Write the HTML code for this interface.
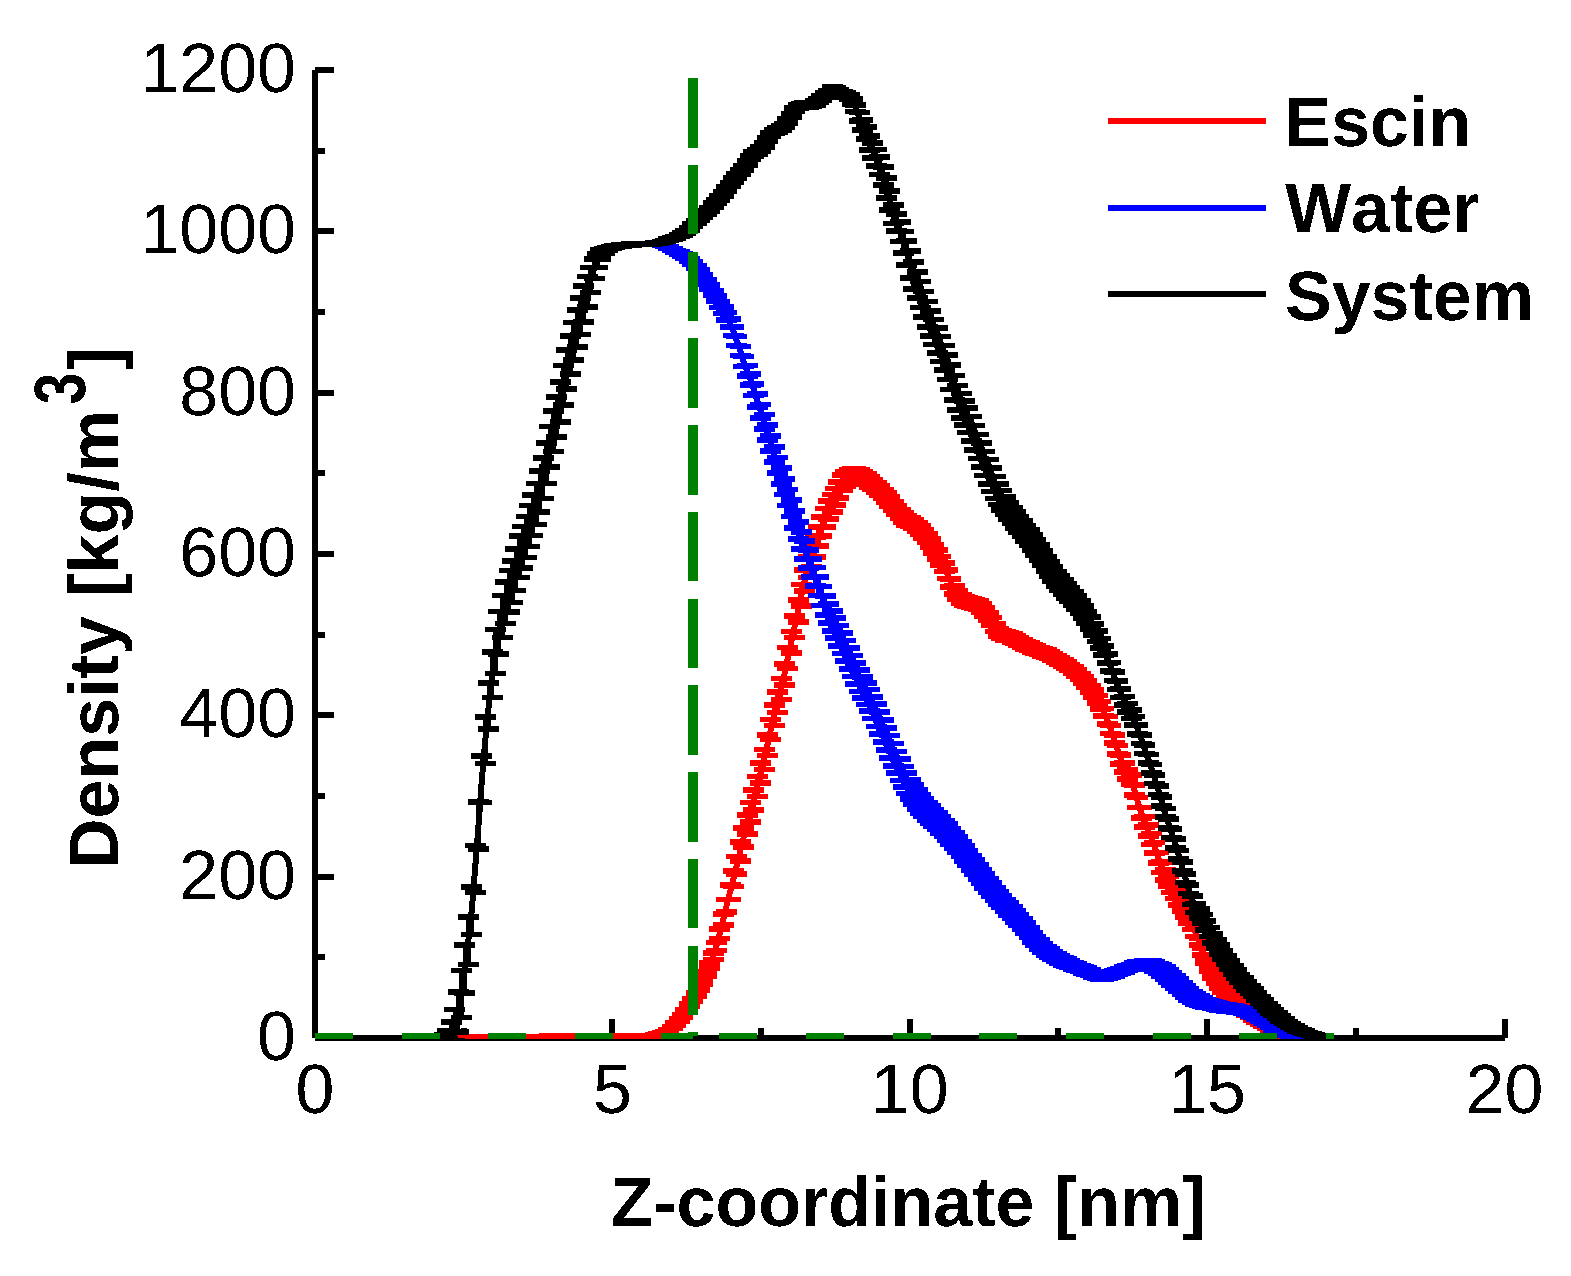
<!DOCTYPE html>
<html><head><meta charset="utf-8"><title>Density profile</title>
<style>html,body{margin:0;padding:0;background:#fff}svg{display:block}text{font-kerning:none}</style></head>
<body>
<svg width="1571" height="1276" viewBox="0 0 1571 1276" shape-rendering="crispEdges" text-rendering="geometricPrecision">
<defs><filter id="th" x="0" y="0" width="100%" height="100%" filterUnits="userSpaceOnUse" primitiveUnits="userSpaceOnUse" color-interpolation-filters="sRGB"><feComponentTransfer><feFuncA type="discrete" tableValues="0 1"/></feComponentTransfer></filter></defs>
<rect width="1571" height="1276" fill="#fff"/>
<rect x="312" y="70" width="6" height="968" fill="#000"/>
<rect x="315" y="1035" width="1190" height="6" fill="#000"/>
<rect x="315" y="67.0" width="19" height="6" fill="#000"/>
<rect x="315" y="147.7" width="10" height="6" fill="#000"/>
<rect x="315" y="228.3" width="19" height="6" fill="#000"/>
<rect x="315" y="309.0" width="10" height="6" fill="#000"/>
<rect x="315" y="389.7" width="19" height="6" fill="#000"/>
<rect x="315" y="470.3" width="10" height="6" fill="#000"/>
<rect x="315" y="551.0" width="19" height="6" fill="#000"/>
<rect x="315" y="631.7" width="10" height="6" fill="#000"/>
<rect x="315" y="712.3" width="19" height="6" fill="#000"/>
<rect x="315" y="793.0" width="10" height="6" fill="#000"/>
<rect x="315" y="873.7" width="19" height="6" fill="#000"/>
<rect x="315" y="954.3" width="10" height="6" fill="#000"/>
<rect x="460.7" y="1028" width="6" height="10" fill="#000"/>
<rect x="609.4" y="1019" width="6" height="19" fill="#000"/>
<rect x="758.1" y="1028" width="6" height="10" fill="#000"/>
<rect x="906.8" y="1019" width="6" height="19" fill="#000"/>
<rect x="1055.4" y="1028" width="6" height="10" fill="#000"/>
<rect x="1204.1" y="1019" width="6" height="19" fill="#000"/>
<rect x="1352.8" y="1028" width="6" height="10" fill="#000"/>
<rect x="1501.5" y="1019" width="6" height="19" fill="#000"/>
<clipPath id="pc"><rect x="315" y="0" width="1200" height="1039"/></clipPath>
<g clip-path="url(#pc)">
<path fill="#ff0000" d="M447.6 1033.5h21.0v5.6h-21.0zM447.6 1033.9h21.0v5.6h-21.0zM451.0 1033.5h21.0v5.6h-21.0zM451.0 1033.9h21.0v5.6h-21.0zM454.4 1033.5h21.0v5.6h-21.0zM454.4 1033.9h21.0v5.6h-21.0zM457.8 1033.5h21.0v5.6h-21.0zM457.8 1033.9h21.0v5.6h-21.0zM461.2 1033.5h21.0v5.6h-21.0zM461.2 1033.9h21.0v5.6h-21.0zM464.6 1033.5h21.0v5.6h-21.0zM464.6 1033.9h21.0v5.6h-21.0zM468.0 1033.5h21.0v5.6h-21.0zM468.0 1033.9h21.0v5.6h-21.0zM471.4 1033.5h21.0v5.6h-21.0zM471.4 1033.9h21.0v5.6h-21.0zM474.8 1033.5h21.0v5.6h-21.0zM474.8 1033.9h21.0v5.6h-21.0zM478.2 1033.5h21.0v5.6h-21.0zM478.2 1033.9h21.0v5.6h-21.0zM481.6 1033.5h21.0v5.6h-21.0zM481.6 1033.9h21.0v5.6h-21.0zM485.0 1033.5h21.0v5.6h-21.0zM485.0 1033.9h21.0v5.6h-21.0zM488.4 1033.5h21.0v5.6h-21.0zM488.4 1033.9h21.0v5.6h-21.0zM491.8 1033.5h21.0v5.6h-21.0zM491.8 1033.9h21.0v5.6h-21.0zM495.2 1033.5h21.0v5.6h-21.0zM495.2 1033.9h21.0v5.6h-21.0zM498.6 1033.5h21.0v5.6h-21.0zM498.6 1033.9h21.0v5.6h-21.0zM502.0 1033.5h21.0v5.6h-21.0zM502.0 1033.9h21.0v5.6h-21.0zM505.4 1033.5h21.0v5.6h-21.0zM505.4 1033.9h21.0v5.6h-21.0zM508.8 1033.5h21.0v5.6h-21.0zM508.8 1033.9h21.0v5.6h-21.0zM512.2 1033.5h21.0v5.6h-21.0zM512.2 1033.9h21.0v5.6h-21.0zM515.6 1033.5h21.0v5.6h-21.0zM515.6 1033.9h21.0v5.6h-21.0zM519.0 1033.5h21.0v5.6h-21.0zM519.0 1033.9h21.0v5.6h-21.0zM522.4 1033.5h21.0v5.6h-21.0zM522.4 1033.9h21.0v5.6h-21.0zM525.8 1033.5h21.0v5.6h-21.0zM525.8 1033.9h21.0v5.6h-21.0zM529.2 1033.5h21.0v5.6h-21.0zM529.2 1033.9h21.0v5.6h-21.0zM532.6 1033.5h21.0v5.6h-21.0zM532.6 1033.9h21.0v5.6h-21.0zM536.0 1033.5h21.0v5.6h-21.0zM536.0 1033.9h21.0v5.6h-21.0zM539.4 1033.4h21.0v5.6h-21.0zM539.4 1034.0h21.0v5.6h-21.0zM542.8 1033.4h21.0v5.6h-21.0zM542.8 1034.0h21.0v5.6h-21.0zM546.2 1033.4h21.0v5.6h-21.0zM546.2 1034.0h21.0v5.6h-21.0zM549.6 1033.4h21.0v5.6h-21.0zM549.6 1034.0h21.0v5.6h-21.0zM553.0 1033.4h21.0v5.6h-21.0zM553.0 1034.0h21.0v5.6h-21.0zM556.4 1033.4h21.0v5.6h-21.0zM556.4 1034.0h21.0v5.6h-21.0zM559.8 1033.4h21.0v5.6h-21.0zM559.8 1034.0h21.0v5.6h-21.0zM563.2 1033.4h21.0v5.6h-21.0zM563.2 1034.0h21.0v5.6h-21.0zM566.6 1033.4h21.0v5.6h-21.0zM566.6 1034.0h21.0v5.6h-21.0zM570.0 1033.4h21.0v5.6h-21.0zM570.0 1034.0h21.0v5.6h-21.0zM573.4 1033.4h21.0v5.6h-21.0zM573.4 1034.0h21.0v5.6h-21.0zM576.8 1033.4h21.0v5.6h-21.0zM576.8 1034.0h21.0v5.6h-21.0zM580.2 1033.4h21.0v5.6h-21.0zM580.2 1034.0h21.0v5.6h-21.0zM583.6 1033.4h21.0v5.6h-21.0zM583.6 1034.0h21.0v5.6h-21.0zM587.0 1033.4h21.0v5.6h-21.0zM587.0 1034.0h21.0v5.6h-21.0zM590.4 1033.4h21.0v5.6h-21.0zM590.4 1034.0h21.0v5.6h-21.0zM593.8 1033.4h21.0v5.6h-21.0zM593.8 1034.0h21.0v5.6h-21.0zM597.2 1033.4h21.0v5.6h-21.0zM597.2 1034.0h21.0v5.6h-21.0zM600.6 1033.4h21.0v5.6h-21.0zM600.6 1034.0h21.0v5.6h-21.0zM604.0 1033.4h21.0v5.6h-21.0zM604.0 1034.0h21.0v5.6h-21.0zM607.4 1033.4h21.0v5.6h-21.0zM607.4 1034.0h21.0v5.6h-21.0zM610.8 1033.4h21.0v5.6h-21.0zM610.8 1034.0h21.0v5.6h-21.0zM614.2 1033.4h21.0v5.6h-21.0zM614.2 1034.0h21.0v5.6h-21.0zM617.6 1033.4h21.0v5.6h-21.0zM617.6 1034.0h21.0v5.6h-21.0zM621.0 1033.4h21.0v5.6h-21.0zM621.0 1034.0h21.0v5.6h-21.0zM624.4 1033.3h21.0v5.6h-21.0zM624.4 1033.9h21.0v5.6h-21.0zM627.8 1033.3h21.0v5.6h-21.0zM627.8 1033.9h21.0v5.6h-21.0zM631.2 1033.2h21.0v5.6h-21.0zM631.2 1033.9h21.0v5.6h-21.0zM634.6 1033.1h21.0v5.6h-21.0zM634.6 1033.9h21.0v5.6h-21.0zM638.0 1032.8h21.0v5.6h-21.0zM638.0 1033.7h21.0v5.6h-21.0zM641.4 1032.5h21.0v5.6h-21.0zM641.4 1033.5h21.0v5.6h-21.0zM644.8 1031.9h21.0v5.6h-21.0zM644.8 1033.0h21.0v5.6h-21.0zM648.2 1031.0h21.0v5.6h-21.0zM648.2 1032.3h21.0v5.6h-21.0zM651.6 1029.9h21.0v5.6h-21.0zM651.6 1031.3h21.0v5.6h-21.0zM655.0 1028.6h21.0v5.6h-21.0zM655.0 1030.1h21.0v5.6h-21.0zM658.4 1026.6h21.0v5.6h-21.0zM658.4 1028.2h21.0v5.6h-21.0zM661.8 1023.6h21.0v5.6h-21.0zM661.8 1025.4h21.0v5.6h-21.0zM665.2 1020.1h21.0v5.6h-21.0zM665.2 1022.0h21.0v5.6h-21.0zM668.6 1016.3h21.0v5.6h-21.0zM668.6 1018.3h21.0v5.6h-21.0zM671.9 1012.1h21.0v5.6h-21.0zM671.9 1014.2h21.0v5.6h-21.0zM675.3 1006.9h21.0v5.6h-21.0zM675.3 1009.2h21.0v5.6h-21.0zM678.7 1001.3h21.0v5.6h-21.0zM678.7 1003.8h21.0v5.6h-21.0zM682.1 995.8h21.0v5.6h-21.0zM682.1 998.4h21.0v5.6h-21.0zM685.5 990.2h21.0v5.6h-21.0zM685.5 993.0h21.0v5.6h-21.0zM688.9 984.2h21.0v5.6h-21.0zM688.9 987.2h21.0v5.6h-21.0zM692.3 977.2h21.0v5.6h-21.0zM692.3 980.9h21.0v5.6h-21.0zM695.7 968.9h21.0v5.6h-21.0zM695.7 973.5h21.0v5.6h-21.0zM699.1 959.9h21.0v5.6h-21.0zM699.1 965.3h21.0v5.6h-21.0zM702.5 950.4h21.0v5.6h-21.0zM702.5 956.8h21.0v5.6h-21.0zM710.8 953.2h4.5v6.5h-4.5zM705.9 939.5h21.0v5.6h-21.0zM705.9 947.5h21.0v5.6h-21.0zM714.2 942.3h4.5v8.0h-4.5zM709.3 926.0h21.0v5.6h-21.0zM709.3 935.6h21.0v5.6h-21.0zM717.6 928.8h4.5v9.6h-4.5zM712.7 911.2h21.0v5.6h-21.0zM712.7 922.4h21.0v5.6h-21.0zM721.0 914.0h4.5v11.2h-4.5zM716.1 896.7h21.0v5.6h-21.0zM716.1 909.4h21.0v5.6h-21.0zM724.4 899.5h4.5v12.8h-4.5zM719.5 882.2h21.0v5.6h-21.0zM719.5 896.6h21.0v5.6h-21.0zM727.8 885.0h4.5v14.3h-4.5zM722.9 867.9h21.0v5.6h-21.0zM722.9 883.8h21.0v5.6h-21.0zM731.2 870.7h4.5v15.9h-4.5zM726.3 853.5h21.0v5.6h-21.0zM726.3 871.0h21.0v5.6h-21.0zM734.6 856.3h4.5v17.5h-4.5zM729.7 839.0h21.0v5.6h-21.0zM729.7 858.0h21.0v5.6h-21.0zM738.0 841.8h4.5v19.0h-4.5zM733.1 825.3h21.0v5.6h-21.0zM733.1 844.4h21.0v5.6h-21.0zM741.4 828.1h4.5v19.2h-4.5zM736.5 812.0h21.0v5.6h-21.0zM736.5 831.3h21.0v5.6h-21.0zM744.8 814.8h4.5v19.3h-4.5zM739.9 799.7h21.0v5.6h-21.0zM739.9 819.1h21.0v5.6h-21.0zM748.2 802.5h4.5v19.5h-4.5zM743.3 787.3h21.0v5.6h-21.0zM743.3 806.9h21.0v5.6h-21.0zM751.6 790.1h4.5v19.6h-4.5zM746.7 773.8h21.0v5.6h-21.0zM746.7 793.6h21.0v5.6h-21.0zM755.0 776.6h4.5v19.7h-4.5zM750.1 760.1h21.0v5.6h-21.0zM750.1 780.0h21.0v5.6h-21.0zM758.4 762.9h4.5v19.9h-4.5zM753.5 746.8h21.0v5.6h-21.0zM753.5 766.8h21.0v5.6h-21.0zM761.8 749.6h4.5v20.0h-4.5zM756.9 732.4h21.0v5.6h-21.0zM756.9 752.5h21.0v5.6h-21.0zM765.2 735.2h4.5v20.2h-4.5zM760.3 716.5h21.0v5.6h-21.0zM760.3 736.8h21.0v5.6h-21.0zM768.6 719.3h4.5v20.3h-4.5zM763.7 702.3h21.0v5.6h-21.0zM763.7 722.7h21.0v5.6h-21.0zM772.0 705.1h4.5v20.5h-4.5zM767.1 688.9h21.0v5.6h-21.0zM767.1 709.6h21.0v5.6h-21.0zM775.4 691.7h4.5v20.6h-4.5zM770.5 675.7h21.0v5.6h-21.0zM770.5 696.5h21.0v5.6h-21.0zM778.8 678.5h4.5v20.8h-4.5zM773.9 661.2h21.0v5.6h-21.0zM773.9 682.2h21.0v5.6h-21.0zM782.2 664.0h4.5v20.9h-4.5zM777.3 644.6h21.0v5.6h-21.0zM777.3 665.7h21.0v5.6h-21.0zM785.6 647.4h4.5v21.1h-4.5zM780.7 628.8h21.0v5.6h-21.0zM780.7 650.0h21.0v5.6h-21.0zM789.0 631.6h4.5v21.2h-4.5zM784.1 613.1h21.0v5.6h-21.0zM784.1 634.5h21.0v5.6h-21.0zM792.4 615.9h4.5v21.4h-4.5zM787.5 597.4h21.0v5.6h-21.0zM787.5 619.0h21.0v5.6h-21.0zM795.8 600.2h4.5v21.5h-4.5zM790.9 581.6h21.0v5.6h-21.0zM790.9 603.0h21.0v5.6h-21.0zM799.1 584.4h4.5v21.4h-4.5zM794.3 567.1h21.0v5.6h-21.0zM794.3 588.0h21.0v5.6h-21.0zM802.5 569.9h4.5v21.0h-4.5zM797.7 554.0h21.0v5.6h-21.0zM797.7 574.5h21.0v5.6h-21.0zM805.9 556.8h4.5v20.5h-4.5zM801.1 543.7h21.0v5.6h-21.0zM801.1 563.7h21.0v5.6h-21.0zM809.3 546.5h4.5v20.1h-4.5zM804.5 534.4h21.0v5.6h-21.0zM804.5 554.0h21.0v5.6h-21.0zM812.7 537.2h4.5v19.6h-4.5zM807.9 524.2h21.0v5.6h-21.0zM807.9 543.4h21.0v5.6h-21.0zM816.1 527.0h4.5v19.2h-4.5zM811.3 514.1h21.0v5.6h-21.0zM811.3 532.9h21.0v5.6h-21.0zM819.5 516.9h4.5v18.7h-4.5zM814.7 505.6h21.0v5.6h-21.0zM814.7 523.9h21.0v5.6h-21.0zM822.9 508.4h4.5v18.3h-4.5zM818.1 498.2h21.0v5.6h-21.0zM818.1 516.1h21.0v5.6h-21.0zM826.3 501.0h4.5v17.8h-4.5zM821.5 491.6h21.0v5.6h-21.0zM821.5 509.0h21.0v5.6h-21.0zM829.7 494.4h4.5v17.4h-4.5zM824.9 485.5h21.0v5.6h-21.0zM824.9 502.4h21.0v5.6h-21.0zM833.1 488.3h4.5v16.9h-4.5zM828.3 479.2h21.0v5.6h-21.0zM828.3 495.4h21.0v5.6h-21.0zM836.5 482.0h4.5v16.2h-4.5zM831.7 472.0h21.0v5.6h-21.0zM831.7 487.6h21.0v5.6h-21.0zM839.9 474.8h4.5v15.6h-4.5zM835.1 468.7h21.0v5.6h-21.0zM835.1 483.6h21.0v5.6h-21.0zM843.3 471.5h4.5v14.9h-4.5zM838.5 466.9h21.0v5.6h-21.0zM838.5 481.1h21.0v5.6h-21.0zM846.7 469.7h4.5v14.2h-4.5zM841.9 466.4h21.0v5.6h-21.0zM841.9 479.9h21.0v5.6h-21.0zM850.1 469.2h4.5v13.5h-4.5zM845.3 466.3h21.0v5.6h-21.0zM845.3 479.2h21.0v5.6h-21.0zM853.5 469.1h4.5v12.8h-4.5zM848.7 467.0h21.0v5.6h-21.0zM848.7 479.1h21.0v5.6h-21.0zM856.9 469.8h4.5v12.2h-4.5zM852.1 468.8h21.0v5.6h-21.0zM852.1 480.2h21.0v5.6h-21.0zM860.3 471.6h4.5v11.5h-4.5zM855.5 471.0h21.0v5.6h-21.0zM855.5 481.8h21.0v5.6h-21.0zM863.7 473.8h4.5v10.8h-4.5zM858.9 474.0h21.0v5.6h-21.0zM858.9 484.1h21.0v5.6h-21.0zM867.1 476.8h4.5v10.1h-4.5zM862.3 477.3h21.0v5.6h-21.0zM862.3 486.7h21.0v5.6h-21.0zM870.5 480.1h4.5v9.4h-4.5zM865.7 480.4h21.0v5.6h-21.0zM865.7 489.4h21.0v5.6h-21.0zM873.9 483.2h4.5v9.0h-4.5zM869.1 483.4h21.0v5.6h-21.0zM869.1 492.4h21.0v5.6h-21.0zM877.3 486.2h4.5v9.0h-4.5zM872.5 486.6h21.0v5.6h-21.0zM872.5 495.6h21.0v5.6h-21.0zM880.7 489.4h4.5v8.9h-4.5zM875.9 490.2h21.0v5.6h-21.0zM875.9 499.1h21.0v5.6h-21.0zM884.1 493.0h4.5v8.9h-4.5zM879.3 494.4h21.0v5.6h-21.0zM879.3 503.3h21.0v5.6h-21.0zM887.5 497.2h4.5v8.9h-4.5zM882.7 498.9h21.0v5.6h-21.0zM882.7 507.8h21.0v5.6h-21.0zM890.9 501.7h4.5v8.9h-4.5zM886.1 503.0h21.0v5.6h-21.0zM886.1 511.8h21.0v5.6h-21.0zM894.3 505.8h4.5v8.8h-4.5zM889.5 506.9h21.0v5.6h-21.0zM889.5 515.7h21.0v5.6h-21.0zM897.7 509.7h4.5v8.8h-4.5zM892.9 510.4h21.0v5.6h-21.0zM892.9 519.2h21.0v5.6h-21.0zM901.1 513.2h4.5v8.8h-4.5zM896.3 513.1h21.0v5.6h-21.0zM896.3 521.9h21.0v5.6h-21.0zM904.5 515.9h4.5v8.7h-4.5zM899.7 515.1h21.0v5.6h-21.0zM899.7 523.8h21.0v5.6h-21.0zM907.9 517.9h4.5v8.7h-4.5zM903.1 517.0h21.0v5.6h-21.0zM903.1 525.7h21.0v5.6h-21.0zM911.3 519.8h4.5v8.7h-4.5zM906.5 519.5h21.0v5.6h-21.0zM906.5 528.1h21.0v5.6h-21.0zM914.7 522.3h4.5v8.7h-4.5zM909.9 522.7h21.0v5.6h-21.0zM909.9 531.4h21.0v5.6h-21.0zM918.1 525.5h4.5v8.6h-4.5zM913.2 526.6h21.0v5.6h-21.0zM913.2 535.2h21.0v5.6h-21.0zM921.5 529.4h4.5v8.6h-4.5zM916.6 530.9h21.0v5.6h-21.0zM916.6 539.5h21.0v5.6h-21.0zM924.9 533.7h4.5v8.6h-4.5zM920.0 536.0h21.0v5.6h-21.0zM920.0 544.6h21.0v5.6h-21.0zM928.3 538.8h4.5v8.6h-4.5zM923.4 541.6h21.0v5.6h-21.0zM923.4 550.1h21.0v5.6h-21.0zM931.7 544.4h4.5v8.5h-4.5zM926.8 547.4h21.0v5.6h-21.0zM926.8 555.9h21.0v5.6h-21.0zM935.1 550.2h4.5v8.5h-4.5zM930.2 553.6h21.0v5.6h-21.0zM930.2 562.0h21.0v5.6h-21.0zM938.5 556.4h4.5v8.5h-4.5zM933.6 560.1h21.0v5.6h-21.0zM933.6 568.6h21.0v5.6h-21.0zM941.9 562.9h4.5v8.4h-4.5zM937.0 567.3h21.0v5.6h-21.0zM937.0 575.7h21.0v5.6h-21.0zM945.3 570.1h4.5v8.4h-4.5zM940.4 575.9h21.0v5.6h-21.0zM940.4 584.3h21.0v5.6h-21.0zM948.7 578.7h4.5v8.4h-4.5zM943.8 582.5h21.0v5.6h-21.0zM943.8 590.9h21.0v5.6h-21.0zM952.1 585.3h4.5v8.4h-4.5zM947.2 587.6h21.0v5.6h-21.0zM947.2 595.9h21.0v5.6h-21.0zM955.5 590.4h4.5v8.3h-4.5zM950.6 591.6h21.0v5.6h-21.0zM950.6 599.9h21.0v5.6h-21.0zM958.9 594.4h4.5v8.3h-4.5zM954.0 594.0h21.0v5.6h-21.0zM954.0 602.3h21.0v5.6h-21.0zM962.3 596.8h4.5v8.3h-4.5zM957.4 595.4h21.0v5.6h-21.0zM957.4 603.6h21.0v5.6h-21.0zM965.7 598.2h4.5v8.3h-4.5zM960.8 596.3h21.0v5.6h-21.0zM960.8 604.5h21.0v5.6h-21.0zM969.1 599.1h4.5v8.2h-4.5zM964.2 597.1h21.0v5.6h-21.0zM964.2 605.3h21.0v5.6h-21.0zM972.5 599.9h4.5v8.2h-4.5zM967.6 598.4h21.0v5.6h-21.0zM967.6 606.6h21.0v5.6h-21.0zM975.9 601.2h4.5v8.2h-4.5zM971.0 600.8h21.0v5.6h-21.0zM971.0 608.9h21.0v5.6h-21.0zM979.3 603.6h4.5v8.1h-4.5zM974.4 604.8h21.0v5.6h-21.0zM974.4 612.9h21.0v5.6h-21.0zM982.7 607.6h4.5v8.1h-4.5zM977.8 609.6h21.0v5.6h-21.0zM977.8 617.7h21.0v5.6h-21.0zM986.1 612.4h4.5v8.1h-4.5zM981.2 614.5h21.0v5.6h-21.0zM981.2 622.6h21.0v5.6h-21.0zM989.5 617.3h4.5v8.1h-4.5zM984.6 620.6h21.0v5.6h-21.0zM984.6 628.7h21.0v5.6h-21.0zM992.9 623.4h4.5v8.0h-4.5zM988.0 625.7h21.0v5.6h-21.0zM988.0 633.7h21.0v5.6h-21.0zM996.3 628.5h4.5v8.0h-4.5zM991.4 627.8h21.0v5.6h-21.0zM991.4 635.7h21.0v5.6h-21.0zM999.7 630.6h4.5v8.0h-4.5zM994.8 629.0h21.0v5.6h-21.0zM994.8 636.9h21.0v5.6h-21.0zM1003.1 631.8h4.5v7.9h-4.5zM998.2 630.0h21.0v5.6h-21.0zM998.2 637.8h21.0v5.6h-21.0zM1006.5 632.8h4.5v7.8h-4.5zM1001.6 631.2h21.0v5.6h-21.0zM1001.6 638.9h21.0v5.6h-21.0zM1009.9 634.0h4.5v7.7h-4.5zM1005.0 632.8h21.0v5.6h-21.0zM1005.0 640.5h21.0v5.6h-21.0zM1013.3 635.6h4.5v7.6h-4.5zM1008.4 634.9h21.0v5.6h-21.0zM1008.4 642.4h21.0v5.6h-21.0zM1016.7 637.7h4.5v7.5h-4.5zM1011.8 637.0h21.0v5.6h-21.0zM1011.8 644.4h21.0v5.6h-21.0zM1020.1 639.8h4.5v7.4h-4.5zM1015.2 638.8h21.0v5.6h-21.0zM1015.2 646.2h21.0v5.6h-21.0zM1023.5 641.6h4.5v7.4h-4.5zM1018.6 640.4h21.0v5.6h-21.0zM1018.6 647.7h21.0v5.6h-21.0zM1026.9 643.2h4.5v7.3h-4.5zM1022.0 641.8h21.0v5.6h-21.0zM1022.0 649.0h21.0v5.6h-21.0zM1030.3 644.6h4.5v7.2h-4.5zM1025.4 643.3h21.0v5.6h-21.0zM1025.4 650.4h21.0v5.6h-21.0zM1033.7 646.1h4.5v7.1h-4.5zM1028.8 644.7h21.0v5.6h-21.0zM1028.8 651.7h21.0v5.6h-21.0zM1037.1 647.5h4.5v7.0h-4.5zM1032.2 646.0h21.0v5.6h-21.0zM1032.2 652.9h21.0v5.6h-21.0zM1040.5 648.8h4.5v6.9h-4.5zM1035.6 647.3h21.0v5.6h-21.0zM1035.6 654.2h21.0v5.6h-21.0zM1043.8 650.1h4.5v6.8h-4.5zM1039.0 648.8h21.0v5.6h-21.0zM1039.0 655.6h21.0v5.6h-21.0zM1047.2 651.6h4.5v6.8h-4.5zM1042.4 650.6h21.0v5.6h-21.0zM1042.4 657.2h21.0v5.6h-21.0zM1050.6 653.4h4.5v6.7h-4.5zM1045.8 652.6h21.0v5.6h-21.0zM1045.8 659.2h21.0v5.6h-21.0zM1054.0 655.4h4.5v6.6h-4.5zM1049.2 654.8h21.0v5.6h-21.0zM1049.2 661.3h21.0v5.6h-21.0zM1057.4 657.6h4.5v6.5h-4.5zM1052.6 657.0h21.0v5.6h-21.0zM1052.6 663.5h21.0v5.6h-21.0zM1060.8 659.8h4.5v6.4h-4.5zM1056.0 659.3h21.0v5.6h-21.0zM1056.0 665.6h21.0v5.6h-21.0zM1064.2 662.1h4.5v6.3h-4.5zM1059.4 661.6h21.0v5.6h-21.0zM1059.4 667.8h21.0v5.6h-21.0zM1067.6 664.4h4.5v6.3h-4.5zM1062.8 664.1h21.0v5.6h-21.0zM1062.8 670.3h21.0v5.6h-21.0zM1071.0 666.9h4.5v6.2h-4.5zM1066.2 667.1h21.0v5.6h-21.0zM1066.2 673.2h21.0v5.6h-21.0zM1074.4 669.9h4.5v6.1h-4.5zM1069.6 670.5h21.0v5.6h-21.0zM1069.6 676.5h21.0v5.6h-21.0zM1077.8 673.3h4.5v6.0h-4.5zM1073.0 674.2h21.0v5.6h-21.0zM1073.0 680.4h21.0v5.6h-21.0zM1081.2 677.0h4.5v6.2h-4.5zM1076.4 678.2h21.0v5.6h-21.0zM1076.4 684.7h21.0v5.6h-21.0zM1084.6 681.0h4.5v6.5h-4.5zM1079.8 682.6h21.0v5.6h-21.0zM1079.8 689.2h21.0v5.6h-21.0zM1088.0 685.4h4.5v6.7h-4.5zM1083.2 687.4h21.0v5.6h-21.0zM1083.2 694.3h21.0v5.6h-21.0zM1091.4 690.2h4.5v6.9h-4.5zM1086.6 692.8h21.0v5.6h-21.0zM1086.6 699.9h21.0v5.6h-21.0zM1094.8 695.6h4.5v7.1h-4.5zM1090.0 698.8h21.0v5.6h-21.0zM1090.0 706.2h21.0v5.6h-21.0zM1098.2 701.6h4.5v7.4h-4.5zM1093.4 705.7h21.0v5.6h-21.0zM1093.4 713.3h21.0v5.6h-21.0zM1101.6 708.5h4.5v7.6h-4.5zM1096.8 713.6h21.0v5.6h-21.0zM1096.8 721.4h21.0v5.6h-21.0zM1105.0 716.4h4.5v7.8h-4.5zM1100.2 722.5h21.0v5.6h-21.0zM1100.2 730.6h21.0v5.6h-21.0zM1108.4 725.3h4.5v8.1h-4.5zM1103.6 732.1h21.0v5.6h-21.0zM1103.6 740.4h21.0v5.6h-21.0zM1111.8 734.9h4.5v8.3h-4.5zM1107.0 742.6h21.0v5.6h-21.0zM1107.0 751.1h21.0v5.6h-21.0zM1115.2 745.4h4.5v8.6h-4.5zM1110.4 752.1h21.0v5.6h-21.0zM1110.4 760.9h21.0v5.6h-21.0zM1118.6 754.9h4.5v8.8h-4.5zM1113.8 760.2h21.0v5.6h-21.0zM1113.8 769.3h21.0v5.6h-21.0zM1122.0 763.0h4.5v9.1h-4.5zM1117.2 767.1h21.0v5.6h-21.0zM1117.2 776.4h21.0v5.6h-21.0zM1125.4 769.9h4.5v9.3h-4.5zM1120.6 772.1h21.0v5.6h-21.0zM1120.6 781.7h21.0v5.6h-21.0zM1128.8 774.9h4.5v9.6h-4.5zM1124.0 782.4h21.0v5.6h-21.0zM1124.0 792.3h21.0v5.6h-21.0zM1132.2 785.2h4.5v9.8h-4.5zM1127.4 794.7h21.0v5.6h-21.0zM1127.4 804.7h21.0v5.6h-21.0zM1135.6 797.5h4.5v10.1h-4.5zM1130.8 804.6h21.0v5.6h-21.0zM1130.8 814.9h21.0v5.6h-21.0zM1139.0 807.4h4.5v10.3h-4.5zM1134.2 813.8h21.0v5.6h-21.0zM1134.2 824.4h21.0v5.6h-21.0zM1142.4 816.6h4.5v10.6h-4.5zM1137.6 822.4h21.0v5.6h-21.0zM1137.6 833.3h21.0v5.6h-21.0zM1145.8 825.2h4.5v10.9h-4.5zM1141.0 830.6h21.0v5.6h-21.0zM1141.0 841.5h21.0v5.6h-21.0zM1149.2 833.4h4.5v10.9h-4.5zM1144.4 839.5h21.0v5.6h-21.0zM1144.4 850.1h21.0v5.6h-21.0zM1152.6 842.3h4.5v10.6h-4.5zM1147.8 849.7h21.0v5.6h-21.0zM1147.8 860.1h21.0v5.6h-21.0zM1156.0 852.5h4.5v10.4h-4.5zM1151.2 859.3h21.0v5.6h-21.0zM1151.2 869.5h21.0v5.6h-21.0zM1159.4 862.1h4.5v10.1h-4.5zM1154.5 867.0h21.0v5.6h-21.0zM1154.5 876.9h21.0v5.6h-21.0zM1162.8 869.8h4.5v9.9h-4.5zM1157.9 873.8h21.0v5.6h-21.0zM1157.9 883.4h21.0v5.6h-21.0zM1166.2 876.6h4.5v9.6h-4.5zM1161.3 880.2h21.0v5.6h-21.0zM1161.3 889.6h21.0v5.6h-21.0zM1169.6 883.0h4.5v9.4h-4.5zM1164.7 886.7h21.0v5.6h-21.0zM1164.7 895.8h21.0v5.6h-21.0zM1173.0 889.5h4.5v9.1h-4.5zM1168.1 893.0h21.0v5.6h-21.0zM1168.1 901.9h21.0v5.6h-21.0zM1176.4 895.8h4.5v8.9h-4.5zM1171.5 899.3h21.0v5.6h-21.0zM1171.5 907.9h21.0v5.6h-21.0zM1179.8 902.1h4.5v8.6h-4.5zM1174.9 905.8h21.0v5.6h-21.0zM1174.9 914.1h21.0v5.6h-21.0zM1183.2 908.6h4.5v8.3h-4.5zM1178.3 912.2h21.0v5.6h-21.0zM1178.3 920.3h21.0v5.6h-21.0zM1186.6 915.0h4.5v8.1h-4.5zM1181.7 918.9h21.0v5.6h-21.0zM1181.7 926.6h21.0v5.6h-21.0zM1190.0 921.7h4.5v7.7h-4.5zM1185.1 926.3h21.0v5.6h-21.0zM1185.1 933.6h21.0v5.6h-21.0zM1193.4 929.1h4.5v7.3h-4.5zM1188.5 935.4h21.0v5.6h-21.0zM1188.5 942.3h21.0v5.6h-21.0zM1196.8 938.2h4.5v6.9h-4.5zM1191.9 945.4h21.0v5.6h-21.0zM1191.9 951.9h21.0v5.6h-21.0zM1200.2 948.2h4.5v6.5h-4.5zM1195.3 954.2h21.0v5.6h-21.0zM1195.3 960.3h21.0v5.6h-21.0zM1203.6 957.0h4.5v6.1h-4.5zM1198.7 962.4h21.0v5.6h-21.0zM1198.7 968.1h21.0v5.6h-21.0zM1207.0 965.2h4.5v5.7h-4.5zM1202.1 969.6h21.0v5.6h-21.0zM1202.1 974.9h21.0v5.6h-21.0zM1205.5 975.5h21.0v5.6h-21.0zM1205.5 980.4h21.0v5.6h-21.0zM1208.9 980.4h21.0v5.6h-21.0zM1208.9 985.3h21.0v5.6h-21.0zM1212.3 984.9h21.0v5.6h-21.0zM1212.3 989.6h21.0v5.6h-21.0zM1215.7 988.9h21.0v5.6h-21.0zM1215.7 993.6h21.0v5.6h-21.0zM1219.1 992.6h21.0v5.6h-21.0zM1219.1 997.2h21.0v5.6h-21.0zM1222.5 996.1h21.0v5.6h-21.0zM1222.5 1000.6h21.0v5.6h-21.0zM1225.9 999.4h21.0v5.6h-21.0zM1225.9 1003.8h21.0v5.6h-21.0zM1229.3 1002.5h21.0v5.6h-21.0zM1229.3 1006.8h21.0v5.6h-21.0zM1232.7 1005.4h21.0v5.6h-21.0zM1232.7 1009.6h21.0v5.6h-21.0zM1236.1 1008.1h21.0v5.6h-21.0zM1236.1 1012.2h21.0v5.6h-21.0zM1239.5 1010.7h21.0v5.6h-21.0zM1239.5 1014.7h21.0v5.6h-21.0zM1242.9 1013.3h21.0v5.6h-21.0zM1242.9 1017.0h21.0v5.6h-21.0zM1246.3 1015.7h21.0v5.6h-21.0zM1246.3 1019.1h21.0v5.6h-21.0zM1249.7 1018.0h21.0v5.6h-21.0zM1249.7 1021.2h21.0v5.6h-21.0zM1253.1 1020.3h21.0v5.6h-21.0zM1253.1 1023.1h21.0v5.6h-21.0zM1256.5 1022.6h21.0v5.6h-21.0zM1256.5 1025.1h21.0v5.6h-21.0zM1259.9 1024.8h21.0v5.6h-21.0zM1259.9 1027.1h21.0v5.6h-21.0zM1263.3 1026.9h21.0v5.6h-21.0zM1263.3 1028.8h21.0v5.6h-21.0zM1266.7 1028.6h21.0v5.6h-21.0zM1266.7 1030.2h21.0v5.6h-21.0zM1270.1 1030.0h21.0v5.6h-21.0zM1270.1 1031.4h21.0v5.6h-21.0zM1273.5 1031.3h21.0v5.6h-21.0zM1273.5 1032.4h21.0v5.6h-21.0zM1276.9 1032.5h21.0v5.6h-21.0zM1276.9 1033.3h21.0v5.6h-21.0zM1280.3 1033.1h21.0v5.6h-21.0zM1280.3 1033.7h21.0v5.6h-21.0zM1283.7 1033.2h21.0v5.6h-21.0zM1283.7 1033.8h21.0v5.6h-21.0zM1287.1 1033.3h21.0v5.6h-21.0zM1287.1 1033.8h21.0v5.6h-21.0zM1290.5 1033.3h21.0v5.6h-21.0zM1290.5 1033.9h21.0v5.6h-21.0zM1293.9 1033.3h21.0v5.6h-21.0zM1293.9 1033.9h21.0v5.6h-21.0zM1297.3 1033.4h21.0v5.6h-21.0zM1297.3 1033.9h21.0v5.6h-21.0zM1300.7 1033.4h21.0v5.6h-21.0zM1300.7 1033.9h21.0v5.6h-21.0zM1304.1 1033.4h21.0v5.6h-21.0zM1304.1 1033.9h21.0v5.6h-21.0zM1307.5 1033.4h21.0v5.6h-21.0zM1307.5 1033.9h21.0v5.6h-21.0zM1310.9 1033.4h21.0v5.6h-21.0zM1310.9 1033.9h21.0v5.6h-21.0z"/>
<polyline fill="none" stroke="#ff0000" stroke-width="6.0" stroke-linejoin="round" points="458.1,1036.5 461.5,1036.5 464.9,1036.5 468.3,1036.5 471.7,1036.5 475.1,1036.5 478.5,1036.5 481.9,1036.5 485.3,1036.5 488.7,1036.5 492.1,1036.5 495.5,1036.5 498.9,1036.5 502.3,1036.5 505.7,1036.5 509.1,1036.5 512.5,1036.5 515.9,1036.5 519.3,1036.5 522.7,1036.5 526.1,1036.5 529.5,1036.5 532.9,1036.5 536.3,1036.5 539.7,1036.5 543.1,1036.5 546.5,1036.5 549.9,1036.5 553.3,1036.5 556.7,1036.5 560.1,1036.5 563.5,1036.5 566.9,1036.5 570.3,1036.5 573.7,1036.5 577.1,1036.5 580.5,1036.5 583.9,1036.5 587.3,1036.5 590.7,1036.5 594.1,1036.5 597.5,1036.5 600.9,1036.5 604.3,1036.5 607.7,1036.5 611.1,1036.5 614.5,1036.5 617.9,1036.5 621.3,1036.5 624.7,1036.5 628.1,1036.5 631.5,1036.5 634.9,1036.4 638.3,1036.4 641.7,1036.4 645.1,1036.3 648.5,1036.1 651.9,1035.8 655.3,1035.3 658.7,1034.5 662.1,1033.4 665.5,1032.2 668.9,1030.2 672.3,1027.3 675.7,1023.8 679.1,1020.1 682.4,1015.9 685.8,1010.9 689.2,1005.4 692.6,999.9 696.0,994.4 699.4,988.5 702.8,981.8 706.2,974.0 709.6,965.4 713.0,956.4 716.4,946.3 719.8,933.6 723.2,919.6 726.6,905.8 730.0,892.2 733.4,878.7 736.8,865.0 740.2,851.3 743.6,837.6 747.0,824.4 750.4,812.2 753.8,799.9 757.2,786.5 760.6,772.9 764.0,759.6 767.4,745.2 770.8,729.5 774.2,715.3 777.6,702.0 781.0,688.9 784.4,674.5 787.8,657.9 791.2,642.2 794.6,626.6 798.0,611.0 801.4,595.1 804.8,580.3 808.2,567.0 811.6,556.5 815.0,547.0 818.4,536.6 821.8,526.3 825.2,517.6 828.6,510.0 832.0,503.1 835.4,496.8 838.8,490.1 842.2,482.6 845.6,479.0 849.0,476.8 852.4,476.0 855.8,475.5 859.2,475.8 862.6,477.3 866.0,479.2 869.4,481.8 872.8,484.8 876.2,487.7 879.6,490.7 883.0,493.9 886.4,497.5 889.8,501.7 893.2,506.2 896.6,510.2 900.0,514.1 903.4,517.6 906.8,520.3 910.2,522.3 913.6,524.1 917.0,526.6 920.4,529.9 923.7,533.7 927.1,538.0 930.5,543.1 933.9,548.6 937.3,554.5 940.7,560.6 944.1,567.2 947.5,574.3 950.9,582.9 954.3,589.5 957.7,594.5 961.1,598.5 964.5,601.0 967.9,602.3 971.3,603.2 974.7,604.0 978.1,605.3 981.5,607.6 984.9,611.7 988.3,616.4 991.7,621.3 995.1,627.4 998.5,632.5 1001.9,634.6 1005.3,635.8 1008.7,636.7 1012.1,637.8 1015.5,639.5 1018.9,641.5 1022.3,643.5 1025.7,645.3 1029.1,646.8 1032.5,648.2 1035.9,649.6 1039.3,651.0 1042.7,652.2 1046.1,653.5 1049.5,655.0 1052.9,656.7 1056.3,658.7 1059.7,660.8 1063.1,663.1 1066.5,665.2 1069.9,667.5 1073.3,670.0 1076.7,672.9 1080.1,676.3 1083.5,680.1 1086.9,684.2 1090.3,688.7 1093.7,693.7 1097.1,699.2 1100.5,705.3 1103.9,712.3 1107.3,720.3 1110.7,729.4 1114.1,739.0 1117.5,749.6 1120.9,759.3 1124.3,767.6 1127.7,774.6 1131.1,779.7 1134.5,790.2 1137.9,802.5 1141.3,812.6 1144.7,821.9 1148.1,830.6 1151.5,838.8 1154.9,847.6 1158.3,857.7 1161.7,867.2 1165.0,874.7 1168.4,881.4 1171.8,887.7 1175.2,894.1 1178.6,900.3 1182.0,906.4 1185.4,912.7 1188.8,919.0 1192.2,925.6 1195.6,932.8 1199.0,941.7 1202.4,951.5 1205.8,960.1 1209.2,968.0 1212.6,975.1 1216.0,980.8 1219.4,985.7 1222.8,990.1 1226.2,994.0 1229.6,997.7 1233.0,1001.2 1236.4,1004.4 1239.8,1007.4 1243.2,1010.3 1246.6,1013.0 1250.0,1015.5 1253.4,1017.9 1256.8,1020.2 1260.2,1022.4 1263.6,1024.5 1267.0,1026.7 1270.4,1028.8 1273.8,1030.6 1277.2,1032.2 1280.6,1033.5 1284.0,1034.7 1287.4,1035.7 1290.8,1036.2 1294.2,1036.3 1297.6,1036.4 1301.0,1036.4 1304.4,1036.4 1307.8,1036.4 1311.2,1036.4 1314.6,1036.5 1318.0,1036.5 1321.4,1036.5"/>
<path fill="#0000ff" d="M427.2 1033.4h21.0v5.6h-21.0zM427.2 1033.9h21.0v5.6h-21.0zM430.6 1033.0h21.0v5.6h-21.0zM430.6 1033.7h21.0v5.6h-21.0zM434.0 1032.3h21.0v5.6h-21.0zM434.0 1033.3h21.0v5.6h-21.0zM437.4 1027.7h21.0v5.6h-21.0zM437.4 1035.5h21.0v5.6h-21.0zM445.7 1030.5h4.5v7.8h-4.5zM440.8 1019.0h21.0v5.6h-21.0zM440.8 1038.7h21.0v5.6h-21.0zM449.1 1021.8h4.5v19.7h-4.5zM444.2 1006.5h21.0v5.6h-21.0zM444.2 1038.1h21.0v5.6h-21.0zM452.5 1009.3h4.5v31.6h-4.5zM447.6 988.9h21.0v5.6h-21.0zM447.6 1029.2h21.0v5.6h-21.0zM455.9 991.7h4.5v40.3h-4.5zM451.0 967.6h21.0v5.6h-21.0zM451.0 1014.7h21.0v5.6h-21.0zM459.3 970.4h4.5v47.1h-4.5zM454.4 942.4h21.0v5.6h-21.0zM454.4 990.2h21.0v5.6h-21.0zM462.7 945.2h4.5v47.8h-4.5zM457.8 914.1h21.0v5.6h-21.0zM457.8 961.6h21.0v5.6h-21.0zM466.1 916.9h4.5v47.5h-4.5zM461.2 884.3h21.0v5.6h-21.0zM461.2 931.6h21.0v5.6h-21.0zM469.5 887.1h4.5v47.3h-4.5zM464.6 842.6h21.0v5.6h-21.0zM464.6 889.6h21.0v5.6h-21.0zM472.9 845.4h4.5v47.1h-4.5zM468.0 799.0h21.0v5.6h-21.0zM468.0 845.9h21.0v5.6h-21.0zM476.3 801.8h4.5v46.8h-4.5zM471.4 753.1h21.0v5.6h-21.0zM471.4 799.6h21.0v5.6h-21.0zM479.7 755.9h4.5v46.6h-4.5zM474.8 714.4h21.0v5.6h-21.0zM474.8 760.7h21.0v5.6h-21.0zM483.1 717.2h4.5v46.3h-4.5zM478.2 680.1h21.0v5.6h-21.0zM478.2 726.2h21.0v5.6h-21.0zM486.5 682.9h4.5v46.1h-4.5zM481.6 649.3h21.0v5.6h-21.0zM481.6 694.5h21.0v5.6h-21.0zM489.9 652.1h4.5v45.1h-4.5zM485.0 626.7h21.0v5.6h-21.0zM485.0 670.5h21.0v5.6h-21.0zM493.3 629.5h4.5v43.8h-4.5zM488.4 608.6h21.0v5.6h-21.0zM488.4 651.0h21.0v5.6h-21.0zM496.7 611.4h4.5v42.4h-4.5zM491.8 592.7h21.0v5.6h-21.0zM491.8 634.6h21.0v5.6h-21.0zM500.1 595.5h4.5v41.9h-4.5zM495.2 579.0h21.0v5.6h-21.0zM495.2 620.8h21.0v5.6h-21.0zM503.5 581.8h4.5v41.8h-4.5zM498.6 567.7h21.0v5.6h-21.0zM498.6 609.4h21.0v5.6h-21.0zM506.9 570.5h4.5v41.7h-4.5zM502.0 558.2h21.0v5.6h-21.0zM502.0 599.8h21.0v5.6h-21.0zM510.3 561.0h4.5v41.6h-4.5zM505.4 546.2h21.0v5.6h-21.0zM505.4 587.7h21.0v5.6h-21.0zM513.7 549.0h4.5v41.5h-4.5zM508.8 533.4h21.0v5.6h-21.0zM508.8 574.8h21.0v5.6h-21.0zM517.1 536.2h4.5v41.4h-4.5zM512.2 523.8h21.0v5.6h-21.0zM512.2 565.1h21.0v5.6h-21.0zM520.5 526.6h4.5v41.2h-4.5zM515.6 513.6h21.0v5.6h-21.0zM515.6 554.7h21.0v5.6h-21.0zM523.9 516.4h4.5v41.1h-4.5zM519.0 502.8h21.0v5.6h-21.0zM519.0 543.8h21.0v5.6h-21.0zM527.3 505.6h4.5v41.0h-4.5zM522.4 491.9h21.0v5.6h-21.0zM522.4 532.8h21.0v5.6h-21.0zM530.7 494.7h4.5v40.9h-4.5zM525.8 480.7h21.0v5.6h-21.0zM525.8 521.5h21.0v5.6h-21.0zM534.1 483.5h4.5v40.8h-4.5zM529.2 468.4h21.0v5.6h-21.0zM529.2 509.1h21.0v5.6h-21.0zM537.5 471.2h4.5v40.7h-4.5zM532.6 455.0h21.0v5.6h-21.0zM532.6 495.5h21.0v5.6h-21.0zM540.9 457.8h4.5v40.6h-4.5zM536.0 440.1h21.0v5.6h-21.0zM536.0 480.6h21.0v5.6h-21.0zM544.3 442.9h4.5v40.4h-4.5zM539.4 423.6h21.0v5.6h-21.0zM539.4 463.9h21.0v5.6h-21.0zM547.7 426.4h4.5v40.3h-4.5zM542.8 408.4h21.0v5.6h-21.0zM542.8 448.6h21.0v5.6h-21.0zM551.1 411.2h4.5v40.2h-4.5zM546.2 394.3h21.0v5.6h-21.0zM546.2 434.4h21.0v5.6h-21.0zM554.5 397.1h4.5v40.1h-4.5zM549.6 379.2h21.0v5.6h-21.0zM549.6 419.1h21.0v5.6h-21.0zM557.8 382.0h4.5v40.0h-4.5zM553.0 362.7h21.0v5.6h-21.0zM553.0 402.1h21.0v5.6h-21.0zM561.2 365.5h4.5v39.4h-4.5zM556.4 347.1h21.0v5.6h-21.0zM556.4 386.0h21.0v5.6h-21.0zM564.6 349.9h4.5v38.9h-4.5zM559.8 333.0h21.0v5.6h-21.0zM559.8 371.3h21.0v5.6h-21.0zM568.0 335.8h4.5v38.3h-4.5zM563.2 319.6h21.0v5.6h-21.0zM563.2 357.4h21.0v5.6h-21.0zM571.4 322.4h4.5v37.7h-4.5zM566.6 307.0h21.0v5.6h-21.0zM566.6 344.1h21.0v5.6h-21.0zM574.8 309.8h4.5v37.2h-4.5zM570.0 294.9h21.0v5.6h-21.0zM570.0 331.5h21.0v5.6h-21.0zM578.2 297.7h4.5v36.6h-4.5zM573.4 283.1h21.0v5.6h-21.0zM573.4 319.1h21.0v5.6h-21.0zM581.6 285.9h4.5v36.0h-4.5zM576.8 273.6h21.0v5.6h-21.0zM576.8 304.1h21.0v5.6h-21.0zM585.0 276.4h4.5v30.5h-4.5zM580.2 264.7h21.0v5.6h-21.0zM580.2 289.6h21.0v5.6h-21.0zM588.4 267.5h4.5v24.9h-4.5zM583.6 256.4h21.0v5.6h-21.0zM583.6 275.5h21.0v5.6h-21.0zM591.8 259.2h4.5v19.2h-4.5zM587.0 250.7h21.0v5.6h-21.0zM587.0 264.6h21.0v5.6h-21.0zM595.2 253.5h4.5v13.9h-4.5zM590.4 246.9h21.0v5.6h-21.0zM590.4 256.0h21.0v5.6h-21.0zM598.6 249.7h4.5v9.2h-4.5zM593.8 246.2h21.0v5.6h-21.0zM593.8 250.6h21.0v5.6h-21.0zM597.2 245.4h21.0v5.6h-21.0zM597.2 247.2h21.0v5.6h-21.0zM600.6 244.2h21.0v5.6h-21.0zM600.6 245.7h21.0v5.6h-21.0zM604.0 243.4h21.0v5.6h-21.0zM604.0 244.6h21.0v5.6h-21.0zM607.4 242.8h21.0v5.6h-21.0zM607.4 243.6h21.0v5.6h-21.0zM610.8 242.3h21.0v5.6h-21.0zM610.8 242.9h21.0v5.6h-21.0zM614.2 241.8h21.0v5.6h-21.0zM614.2 242.4h21.0v5.6h-21.0zM617.6 241.5h21.0v5.6h-21.0zM617.6 242.1h21.0v5.6h-21.0zM621.0 241.3h21.0v5.6h-21.0zM621.0 241.9h21.0v5.6h-21.0zM624.4 241.1h21.0v5.6h-21.0zM624.4 241.8h21.0v5.6h-21.0zM627.8 241.0h21.0v5.6h-21.0zM627.8 241.7h21.0v5.6h-21.0zM631.2 240.9h21.0v5.6h-21.0zM631.2 241.6h21.0v5.6h-21.0zM634.6 240.8h21.0v5.6h-21.0zM634.6 241.6h21.0v5.6h-21.0zM638.0 240.7h21.0v5.6h-21.0zM638.0 241.4h21.0v5.6h-21.0zM641.4 240.5h21.0v5.6h-21.0zM641.4 241.3h21.0v5.6h-21.0zM644.8 240.2h21.0v5.6h-21.0zM644.8 240.9h21.0v5.6h-21.0zM648.2 240.9h21.0v5.6h-21.0zM648.2 241.7h21.0v5.6h-21.0zM651.6 241.8h21.0v5.6h-21.0zM651.6 242.7h21.0v5.6h-21.0zM655.0 242.8h21.0v5.6h-21.0zM655.0 243.8h21.0v5.6h-21.0zM658.4 244.1h21.0v5.6h-21.0zM658.4 245.2h21.0v5.6h-21.0zM661.8 245.7h21.0v5.6h-21.0zM661.8 247.0h21.0v5.6h-21.0zM665.2 247.5h21.0v5.6h-21.0zM665.2 248.9h21.0v5.6h-21.0zM668.6 249.4h21.0v5.6h-21.0zM668.6 250.9h21.0v5.6h-21.0zM671.9 251.4h21.0v5.6h-21.0zM671.9 253.1h21.0v5.6h-21.0zM675.3 253.7h21.0v5.6h-21.0zM675.3 255.5h21.0v5.6h-21.0zM678.7 256.2h21.0v5.6h-21.0zM678.7 258.2h21.0v5.6h-21.0zM682.1 259.2h21.0v5.6h-21.0zM682.1 261.5h21.0v5.6h-21.0zM685.5 262.9h21.0v5.6h-21.0zM685.5 265.7h21.0v5.6h-21.0zM688.9 267.3h21.0v5.6h-21.0zM688.9 270.6h21.0v5.6h-21.0zM692.3 272.1h21.0v5.6h-21.0zM692.3 275.8h21.0v5.6h-21.0zM695.7 277.0h21.0v5.6h-21.0zM695.7 281.2h21.0v5.6h-21.0zM699.1 282.2h21.0v5.6h-21.0zM699.1 286.8h21.0v5.6h-21.0zM702.5 287.6h21.0v5.6h-21.0zM702.5 292.7h21.0v5.6h-21.0zM705.9 293.2h21.0v5.6h-21.0zM705.9 298.8h21.0v5.6h-21.0zM709.3 298.8h21.0v5.6h-21.0zM709.3 304.7h21.0v5.6h-21.0zM717.6 301.6h4.5v6.0h-4.5zM712.7 304.1h21.0v5.6h-21.0zM712.7 310.6h21.0v5.6h-21.0zM721.0 306.9h4.5v6.5h-4.5zM716.1 309.8h21.0v5.6h-21.0zM716.1 316.9h21.0v5.6h-21.0zM724.4 312.6h4.5v7.1h-4.5zM719.5 316.3h21.0v5.6h-21.0zM719.5 323.9h21.0v5.6h-21.0zM727.8 319.1h4.5v7.6h-4.5zM722.9 324.4h21.0v5.6h-21.0zM722.9 332.6h21.0v5.6h-21.0zM731.2 327.2h4.5v8.1h-4.5zM726.3 333.8h21.0v5.6h-21.0zM726.3 342.5h21.0v5.6h-21.0zM734.6 336.6h4.5v8.7h-4.5zM729.7 343.5h21.0v5.6h-21.0zM729.7 352.8h21.0v5.6h-21.0zM738.0 346.3h4.5v9.2h-4.5zM733.1 353.7h21.0v5.6h-21.0zM733.1 363.5h21.0v5.6h-21.0zM741.4 356.5h4.5v9.8h-4.5zM736.5 362.8h21.0v5.6h-21.0zM736.5 373.3h21.0v5.6h-21.0zM744.8 365.6h4.5v10.4h-4.5zM739.9 371.2h21.0v5.6h-21.0zM739.9 382.4h21.0v5.6h-21.0zM748.2 374.0h4.5v11.2h-4.5zM743.3 380.9h21.0v5.6h-21.0zM743.3 392.8h21.0v5.6h-21.0zM751.6 383.7h4.5v11.9h-4.5zM746.7 391.4h21.0v5.6h-21.0zM746.7 404.1h21.0v5.6h-21.0zM755.0 394.2h4.5v12.7h-4.5zM750.1 401.6h21.0v5.6h-21.0zM750.1 415.0h21.0v5.6h-21.0zM758.4 404.4h4.5v13.4h-4.5zM753.5 411.7h21.0v5.6h-21.0zM753.5 425.9h21.0v5.6h-21.0zM761.8 414.5h4.5v14.2h-4.5zM756.9 422.3h21.0v5.6h-21.0zM756.9 436.9h21.0v5.6h-21.0zM765.2 425.1h4.5v14.6h-4.5zM760.3 433.1h21.0v5.6h-21.0zM760.3 448.0h21.0v5.6h-21.0zM768.6 435.9h4.5v14.9h-4.5zM763.7 443.9h21.0v5.6h-21.0zM763.7 459.0h21.0v5.6h-21.0zM772.0 446.7h4.5v15.1h-4.5zM767.1 454.6h21.0v5.6h-21.0zM767.1 470.0h21.0v5.6h-21.0zM775.4 457.4h4.5v15.4h-4.5zM770.5 465.2h21.0v5.6h-21.0zM770.5 480.9h21.0v5.6h-21.0zM778.8 468.0h4.5v15.7h-4.5zM773.9 475.9h21.0v5.6h-21.0zM773.9 491.8h21.0v5.6h-21.0zM782.2 478.7h4.5v16.0h-4.5zM777.3 486.5h21.0v5.6h-21.0zM777.3 502.7h21.0v5.6h-21.0zM785.6 489.3h4.5v16.2h-4.5zM780.7 497.2h21.0v5.6h-21.0zM780.7 513.7h21.0v5.6h-21.0zM789.0 500.0h4.5v16.5h-4.5zM784.1 508.4h21.0v5.6h-21.0zM784.1 525.1h21.0v5.6h-21.0zM792.4 511.2h4.5v16.8h-4.5zM787.5 519.2h21.0v5.6h-21.0zM787.5 536.2h21.0v5.6h-21.0zM795.8 522.0h4.5v17.0h-4.5zM790.9 529.0h21.0v5.6h-21.0zM790.9 546.3h21.0v5.6h-21.0zM799.1 531.8h4.5v17.3h-4.5zM794.3 538.3h21.0v5.6h-21.0zM794.3 555.9h21.0v5.6h-21.0zM802.5 541.1h4.5v17.6h-4.5zM797.7 547.4h21.0v5.6h-21.0zM797.7 565.2h21.0v5.6h-21.0zM805.9 550.2h4.5v17.8h-4.5zM801.1 556.1h21.0v5.6h-21.0zM801.1 574.2h21.0v5.6h-21.0zM809.3 558.9h4.5v18.1h-4.5zM804.5 564.7h21.0v5.6h-21.0zM804.5 583.1h21.0v5.6h-21.0zM812.7 567.5h4.5v18.3h-4.5zM807.9 574.0h21.0v5.6h-21.0zM807.9 592.6h21.0v5.6h-21.0zM816.1 576.8h4.5v18.6h-4.5zM811.3 583.8h21.0v5.6h-21.0zM811.3 602.7h21.0v5.6h-21.0zM819.5 586.6h4.5v18.9h-4.5zM814.7 593.1h21.0v5.6h-21.0zM814.7 612.2h21.0v5.6h-21.0zM822.9 595.9h4.5v19.1h-4.5zM818.1 601.0h21.0v5.6h-21.0zM818.1 620.4h21.0v5.6h-21.0zM826.3 603.8h4.5v19.4h-4.5zM821.5 608.3h21.0v5.6h-21.0zM821.5 627.9h21.0v5.6h-21.0zM829.7 611.1h4.5v19.6h-4.5zM824.9 615.4h21.0v5.6h-21.0zM824.9 635.3h21.0v5.6h-21.0zM833.1 618.2h4.5v19.9h-4.5zM828.3 622.8h21.0v5.6h-21.0zM828.3 642.9h21.0v5.6h-21.0zM836.5 625.6h4.5v20.1h-4.5zM831.7 630.2h21.0v5.6h-21.0zM831.7 650.6h21.0v5.6h-21.0zM839.9 633.0h4.5v20.4h-4.5zM835.1 637.6h21.0v5.6h-21.0zM835.1 658.3h21.0v5.6h-21.0zM843.3 640.4h4.5v20.7h-4.5zM838.5 645.0h21.0v5.6h-21.0zM838.5 666.0h21.0v5.6h-21.0zM846.7 647.8h4.5v20.9h-4.5zM841.9 652.6h21.0v5.6h-21.0zM841.9 673.7h21.0v5.6h-21.0zM850.1 655.4h4.5v21.1h-4.5zM845.3 660.2h21.0v5.6h-21.0zM845.3 681.4h21.0v5.6h-21.0zM853.5 663.0h4.5v21.2h-4.5zM848.7 667.4h21.0v5.6h-21.0zM848.7 688.7h21.0v5.6h-21.0zM856.9 670.2h4.5v21.4h-4.5zM852.1 673.9h21.0v5.6h-21.0zM852.1 695.4h21.0v5.6h-21.0zM860.3 676.7h4.5v21.5h-4.5zM855.5 680.1h21.0v5.6h-21.0zM855.5 701.7h21.0v5.6h-21.0zM863.7 682.9h4.5v21.6h-4.5zM858.9 686.7h21.0v5.6h-21.0zM858.9 708.4h21.0v5.6h-21.0zM867.1 689.5h4.5v21.8h-4.5zM862.3 693.9h21.0v5.6h-21.0zM862.3 715.8h21.0v5.6h-21.0zM870.5 696.7h4.5v21.9h-4.5zM865.7 701.4h21.0v5.6h-21.0zM865.7 723.5h21.0v5.6h-21.0zM873.9 704.2h4.5v22.0h-4.5zM869.1 709.1h21.0v5.6h-21.0zM869.1 731.3h21.0v5.6h-21.0zM877.3 711.9h4.5v22.2h-4.5zM872.5 716.9h21.0v5.6h-21.0zM872.5 739.2h21.0v5.6h-21.0zM880.7 719.7h4.5v22.3h-4.5zM875.9 724.9h21.0v5.6h-21.0zM875.9 747.3h21.0v5.6h-21.0zM884.1 727.7h4.5v22.5h-4.5zM879.3 732.8h21.0v5.6h-21.0zM879.3 755.4h21.0v5.6h-21.0zM887.5 735.6h4.5v22.6h-4.5zM882.7 740.7h21.0v5.6h-21.0zM882.7 762.9h21.0v5.6h-21.0zM890.9 743.5h4.5v22.2h-4.5zM886.1 748.6h21.0v5.6h-21.0zM886.1 770.3h21.0v5.6h-21.0zM894.3 751.4h4.5v21.7h-4.5zM889.5 756.4h21.0v5.6h-21.0zM889.5 777.6h21.0v5.6h-21.0zM897.7 759.2h4.5v21.2h-4.5zM892.9 763.6h21.0v5.6h-21.0zM892.9 784.3h21.0v5.6h-21.0zM901.1 766.4h4.5v20.7h-4.5zM896.3 770.3h21.0v5.6h-21.0zM896.3 790.6h21.0v5.6h-21.0zM904.5 773.1h4.5v20.3h-4.5zM899.7 776.7h21.0v5.6h-21.0zM899.7 796.4h21.0v5.6h-21.0zM907.9 779.5h4.5v19.8h-4.5zM903.1 782.4h21.0v5.6h-21.0zM903.1 801.7h21.0v5.6h-21.0zM911.3 785.2h4.5v19.3h-4.5zM906.5 787.4h21.0v5.6h-21.0zM906.5 806.2h21.0v5.6h-21.0zM914.7 790.2h4.5v18.8h-4.5zM909.9 791.8h21.0v5.6h-21.0zM909.9 810.1h21.0v5.6h-21.0zM918.1 794.6h4.5v18.4h-4.5zM913.2 795.8h21.0v5.6h-21.0zM913.2 813.6h21.0v5.6h-21.0zM921.5 798.6h4.5v17.9h-4.5zM916.6 799.7h21.0v5.6h-21.0zM916.6 817.1h21.0v5.6h-21.0zM924.9 802.5h4.5v17.4h-4.5zM920.0 803.3h21.0v5.6h-21.0zM920.0 820.3h21.0v5.6h-21.0zM928.3 806.1h4.5v17.0h-4.5zM923.4 806.7h21.0v5.6h-21.0zM923.4 823.4h21.0v5.6h-21.0zM931.7 809.5h4.5v16.8h-4.5zM926.8 810.0h21.0v5.6h-21.0zM926.8 826.6h21.0v5.6h-21.0zM935.1 812.8h4.5v16.6h-4.5zM930.2 813.6h21.0v5.6h-21.0zM930.2 830.0h21.0v5.6h-21.0zM938.5 816.4h4.5v16.4h-4.5zM933.6 817.5h21.0v5.6h-21.0zM933.6 833.6h21.0v5.6h-21.0zM941.9 820.3h4.5v16.2h-4.5zM937.0 821.4h21.0v5.6h-21.0zM937.0 837.4h21.0v5.6h-21.0zM945.3 824.2h4.5v15.9h-4.5zM940.4 825.6h21.0v5.6h-21.0zM940.4 841.3h21.0v5.6h-21.0zM948.7 828.4h4.5v15.7h-4.5zM943.8 829.8h21.0v5.6h-21.0zM943.8 845.3h21.0v5.6h-21.0zM952.1 832.6h4.5v15.5h-4.5zM947.2 834.1h21.0v5.6h-21.0zM947.2 849.4h21.0v5.6h-21.0zM955.5 836.9h4.5v15.3h-4.5zM950.6 838.6h21.0v5.6h-21.0zM950.6 853.7h21.0v5.6h-21.0zM958.9 841.4h4.5v15.1h-4.5zM954.0 843.2h21.0v5.6h-21.0zM954.0 858.1h21.0v5.6h-21.0zM962.3 846.0h4.5v14.9h-4.5zM957.4 847.9h21.0v5.6h-21.0zM957.4 862.7h21.0v5.6h-21.0zM965.7 850.7h4.5v14.7h-4.5zM960.8 852.6h21.0v5.6h-21.0zM960.8 867.2h21.0v5.6h-21.0zM969.1 855.4h4.5v14.5h-4.5zM964.2 857.3h21.0v5.6h-21.0zM964.2 871.6h21.0v5.6h-21.0zM972.5 860.1h4.5v14.3h-4.5zM967.6 862.0h21.0v5.6h-21.0zM967.6 876.1h21.0v5.6h-21.0zM975.9 864.8h4.5v14.1h-4.5zM971.0 866.7h21.0v5.6h-21.0zM971.0 880.6h21.0v5.6h-21.0zM979.3 869.5h4.5v13.9h-4.5zM974.4 871.4h21.0v5.6h-21.0zM974.4 885.0h21.0v5.6h-21.0zM982.7 874.2h4.5v13.6h-4.5zM977.8 876.0h21.0v5.6h-21.0zM977.8 889.2h21.0v5.6h-21.0zM986.1 878.8h4.5v13.3h-4.5zM981.2 880.3h21.0v5.6h-21.0zM981.2 893.3h21.0v5.6h-21.0zM989.5 883.1h4.5v13.0h-4.5zM984.6 884.5h21.0v5.6h-21.0zM984.6 897.2h21.0v5.6h-21.0zM992.9 887.3h4.5v12.7h-4.5zM988.0 888.5h21.0v5.6h-21.0zM988.0 901.0h21.0v5.6h-21.0zM996.3 891.3h4.5v12.4h-4.5zM991.4 892.5h21.0v5.6h-21.0zM991.4 904.7h21.0v5.6h-21.0zM999.7 895.3h4.5v12.1h-4.5zM994.8 896.5h21.0v5.6h-21.0zM994.8 908.3h21.0v5.6h-21.0zM1003.1 899.3h4.5v11.8h-4.5zM998.2 900.4h21.0v5.6h-21.0zM998.2 911.9h21.0v5.6h-21.0zM1006.5 903.2h4.5v11.5h-4.5zM1001.6 904.2h21.0v5.6h-21.0zM1001.6 915.4h21.0v5.6h-21.0zM1009.9 907.0h4.5v11.2h-4.5zM1005.0 907.9h21.0v5.6h-21.0zM1005.0 918.9h21.0v5.6h-21.0zM1013.3 910.7h4.5v11.0h-4.5zM1008.4 911.8h21.0v5.6h-21.0zM1008.4 922.4h21.0v5.6h-21.0zM1016.7 914.6h4.5v10.7h-4.5zM1011.8 915.8h21.0v5.6h-21.0zM1011.8 926.2h21.0v5.6h-21.0zM1020.1 918.6h4.5v10.4h-4.5zM1015.2 920.3h21.0v5.6h-21.0zM1015.2 930.4h21.0v5.6h-21.0zM1023.5 923.1h4.5v10.1h-4.5zM1018.6 924.9h21.0v5.6h-21.0zM1018.6 934.7h21.0v5.6h-21.0zM1026.9 927.7h4.5v9.8h-4.5zM1022.0 929.5h21.0v5.6h-21.0zM1022.0 939.0h21.0v5.6h-21.0zM1030.3 932.3h4.5v9.5h-4.5zM1025.4 933.6h21.0v5.6h-21.0zM1025.4 942.8h21.0v5.6h-21.0zM1033.7 936.4h4.5v9.2h-4.5zM1028.8 937.2h21.0v5.6h-21.0zM1028.8 946.1h21.0v5.6h-21.0zM1037.1 940.0h4.5v8.9h-4.5zM1032.2 940.5h21.0v5.6h-21.0zM1032.2 949.2h21.0v5.6h-21.0zM1040.5 943.3h4.5v8.6h-4.5zM1035.6 943.6h21.0v5.6h-21.0zM1035.6 952.0h21.0v5.6h-21.0zM1043.8 946.4h4.5v8.3h-4.5zM1039.0 946.4h21.0v5.6h-21.0zM1039.0 954.5h21.0v5.6h-21.0zM1047.2 949.2h4.5v8.0h-4.5zM1042.4 948.9h21.0v5.6h-21.0zM1042.4 956.7h21.0v5.6h-21.0zM1050.6 951.7h4.5v7.8h-4.5zM1045.8 951.0h21.0v5.6h-21.0zM1045.8 958.6h21.0v5.6h-21.0zM1054.0 953.8h4.5v7.6h-4.5zM1049.2 952.9h21.0v5.6h-21.0zM1049.2 960.3h21.0v5.6h-21.0zM1057.4 955.7h4.5v7.4h-4.5zM1052.6 954.7h21.0v5.6h-21.0zM1052.6 961.9h21.0v5.6h-21.0zM1060.8 957.5h4.5v7.2h-4.5zM1056.0 956.3h21.0v5.6h-21.0zM1056.0 963.3h21.0v5.6h-21.0zM1064.2 959.1h4.5v7.0h-4.5zM1059.4 958.0h21.0v5.6h-21.0zM1059.4 964.8h21.0v5.6h-21.0zM1067.6 960.8h4.5v6.8h-4.5zM1062.8 959.5h21.0v5.6h-21.0zM1062.8 966.1h21.0v5.6h-21.0zM1071.0 962.3h4.5v6.6h-4.5zM1066.2 961.1h21.0v5.6h-21.0zM1066.2 967.5h21.0v5.6h-21.0zM1074.4 963.9h4.5v6.4h-4.5zM1069.6 962.6h21.0v5.6h-21.0zM1069.6 968.8h21.0v5.6h-21.0zM1077.8 965.4h4.5v6.2h-4.5zM1073.0 964.0h21.0v5.6h-21.0zM1073.0 970.0h21.0v5.6h-21.0zM1081.2 966.8h4.5v6.0h-4.5zM1076.4 965.4h21.0v5.6h-21.0zM1076.4 971.2h21.0v5.6h-21.0zM1084.6 968.2h4.5v5.8h-4.5zM1079.8 967.1h21.0v5.6h-21.0zM1079.8 972.7h21.0v5.6h-21.0zM1083.2 968.7h21.0v5.6h-21.0zM1083.2 974.1h21.0v5.6h-21.0zM1086.6 970.1h21.0v5.6h-21.0zM1086.6 975.3h21.0v5.6h-21.0zM1090.0 971.1h21.0v5.6h-21.0zM1090.0 976.0h21.0v5.6h-21.0zM1093.4 971.1h21.0v5.6h-21.0zM1093.4 976.1h21.0v5.6h-21.0zM1096.8 970.4h21.0v5.6h-21.0zM1096.8 975.3h21.0v5.6h-21.0zM1100.2 969.4h21.0v5.6h-21.0zM1100.2 974.2h21.0v5.6h-21.0zM1103.6 968.3h21.0v5.6h-21.0zM1103.6 973.1h21.0v5.6h-21.0zM1107.0 967.0h21.0v5.6h-21.0zM1107.0 971.8h21.0v5.6h-21.0zM1110.4 965.6h21.0v5.6h-21.0zM1110.4 970.4h21.0v5.6h-21.0zM1113.8 964.4h21.0v5.6h-21.0zM1113.8 969.1h21.0v5.6h-21.0zM1117.2 963.0h21.0v5.6h-21.0zM1117.2 967.7h21.0v5.6h-21.0zM1120.6 961.6h21.0v5.6h-21.0zM1120.6 966.2h21.0v5.6h-21.0zM1124.0 960.3h21.0v5.6h-21.0zM1124.0 964.9h21.0v5.6h-21.0zM1127.4 959.2h21.0v5.6h-21.0zM1127.4 964.5h21.0v5.6h-21.0zM1130.8 958.7h21.0v5.6h-21.0zM1130.8 964.7h21.0v5.6h-21.0zM1139.0 961.5h4.5v6.0h-4.5zM1134.2 958.4h21.0v5.6h-21.0zM1134.2 965.2h21.0v5.6h-21.0zM1142.4 961.2h4.5v6.8h-4.5zM1137.6 958.3h21.0v5.6h-21.0zM1137.6 965.8h21.0v5.6h-21.0zM1145.8 961.1h4.5v7.6h-4.5zM1141.0 958.3h21.0v5.6h-21.0zM1141.0 966.6h21.0v5.6h-21.0zM1149.2 961.1h4.5v8.4h-4.5zM1144.4 959.1h21.0v5.6h-21.0zM1144.4 968.4h21.0v5.6h-21.0zM1152.6 961.9h4.5v9.3h-4.5zM1147.8 960.5h21.0v5.6h-21.0zM1147.8 970.7h21.0v5.6h-21.0zM1156.0 963.3h4.5v10.2h-4.5zM1151.2 962.1h21.0v5.6h-21.0zM1151.2 973.2h21.0v5.6h-21.0zM1159.4 964.9h4.5v11.1h-4.5zM1154.5 964.3h21.0v5.6h-21.0zM1154.5 976.3h21.0v5.6h-21.0zM1162.8 967.1h4.5v12.0h-4.5zM1157.9 967.1h21.0v5.6h-21.0zM1157.9 979.1h21.0v5.6h-21.0zM1166.2 969.9h4.5v12.0h-4.5zM1161.3 970.0h21.0v5.6h-21.0zM1161.3 982.0h21.0v5.6h-21.0zM1169.6 972.8h4.5v12.0h-4.5zM1164.7 973.2h21.0v5.6h-21.0zM1164.7 985.2h21.0v5.6h-21.0zM1173.0 976.0h4.5v12.0h-4.5zM1168.1 976.3h21.0v5.6h-21.0zM1168.1 988.3h21.0v5.6h-21.0zM1176.4 979.1h4.5v12.0h-4.5zM1171.5 979.5h21.0v5.6h-21.0zM1171.5 991.5h21.0v5.6h-21.0zM1179.8 982.3h4.5v12.0h-4.5zM1174.9 982.7h21.0v5.6h-21.0zM1174.9 994.7h21.0v5.6h-21.0zM1183.2 985.5h4.5v12.0h-4.5zM1178.3 985.6h21.0v5.6h-21.0zM1178.3 997.3h21.0v5.6h-21.0zM1186.6 988.4h4.5v11.8h-4.5zM1181.7 988.5h21.0v5.6h-21.0zM1181.7 999.4h21.0v5.6h-21.0zM1190.0 991.3h4.5v10.9h-4.5zM1185.1 991.1h21.0v5.6h-21.0zM1185.1 1001.2h21.0v5.6h-21.0zM1193.4 993.9h4.5v10.1h-4.5zM1188.5 993.3h21.0v5.6h-21.0zM1188.5 1002.5h21.0v5.6h-21.0zM1196.8 996.1h4.5v9.2h-4.5zM1191.9 995.0h21.0v5.6h-21.0zM1191.9 1003.4h21.0v5.6h-21.0zM1200.2 997.8h4.5v8.4h-4.5zM1195.3 996.6h21.0v5.6h-21.0zM1195.3 1004.1h21.0v5.6h-21.0zM1203.6 999.4h4.5v7.5h-4.5zM1198.7 998.0h21.0v5.6h-21.0zM1198.7 1004.7h21.0v5.6h-21.0zM1207.0 1000.8h4.5v6.7h-4.5zM1202.1 999.4h21.0v5.6h-21.0zM1202.1 1005.3h21.0v5.6h-21.0zM1210.4 1002.2h4.5v6.0h-4.5zM1205.5 1000.3h21.0v5.6h-21.0zM1205.5 1006.2h21.0v5.6h-21.0zM1213.8 1003.1h4.5v5.9h-4.5zM1208.9 1001.1h21.0v5.6h-21.0zM1208.9 1007.0h21.0v5.6h-21.0zM1217.2 1003.9h4.5v5.8h-4.5zM1212.3 1001.8h21.0v5.6h-21.0zM1212.3 1007.5h21.0v5.6h-21.0zM1220.6 1004.6h4.5v5.7h-4.5zM1215.7 1002.3h21.0v5.6h-21.0zM1215.7 1008.0h21.0v5.6h-21.0zM1224.0 1005.1h4.5v5.6h-4.5zM1219.1 1002.8h21.0v5.6h-21.0zM1219.1 1008.4h21.0v5.6h-21.0zM1222.5 1003.4h21.0v5.6h-21.0zM1222.5 1008.8h21.0v5.6h-21.0zM1225.9 1003.9h21.0v5.6h-21.0zM1225.9 1009.3h21.0v5.6h-21.0zM1229.3 1004.5h21.0v5.6h-21.0zM1229.3 1009.8h21.0v5.6h-21.0zM1232.7 1005.3h21.0v5.6h-21.0zM1232.7 1010.4h21.0v5.6h-21.0zM1236.1 1006.4h21.0v5.6h-21.0zM1236.1 1011.5h21.0v5.6h-21.0zM1239.5 1008.0h21.0v5.6h-21.0zM1239.5 1013.0h21.0v5.6h-21.0zM1242.9 1009.8h21.0v5.6h-21.0zM1242.9 1014.4h21.0v5.6h-21.0zM1246.3 1011.8h21.0v5.6h-21.0zM1246.3 1016.2h21.0v5.6h-21.0zM1249.7 1014.2h21.0v5.6h-21.0zM1249.7 1018.2h21.0v5.6h-21.0zM1253.1 1016.7h21.0v5.6h-21.0zM1253.1 1020.4h21.0v5.6h-21.0zM1256.5 1019.2h21.0v5.6h-21.0zM1256.5 1022.5h21.0v5.6h-21.0zM1259.9 1021.9h21.0v5.6h-21.0zM1259.9 1024.8h21.0v5.6h-21.0zM1263.3 1024.4h21.0v5.6h-21.0zM1263.3 1027.0h21.0v5.6h-21.0zM1266.7 1026.4h21.0v5.6h-21.0zM1266.7 1028.7h21.0v5.6h-21.0zM1270.1 1028.3h21.0v5.6h-21.0zM1270.1 1030.2h21.0v5.6h-21.0zM1273.5 1030.0h21.0v5.6h-21.0zM1273.5 1031.6h21.0v5.6h-21.0zM1276.9 1031.3h21.0v5.6h-21.0zM1276.9 1032.5h21.0v5.6h-21.0zM1280.3 1032.1h21.0v5.6h-21.0zM1280.3 1033.1h21.0v5.6h-21.0zM1283.7 1032.7h21.0v5.6h-21.0zM1283.7 1033.7h21.0v5.6h-21.0zM1287.1 1033.2h21.0v5.6h-21.0zM1287.1 1034.1h21.0v5.6h-21.0zM1290.5 1033.3h21.0v5.6h-21.0zM1290.5 1034.1h21.0v5.6h-21.0zM1293.9 1033.3h21.0v5.6h-21.0zM1293.9 1034.1h21.0v5.6h-21.0zM1297.3 1033.3h21.0v5.6h-21.0zM1297.3 1034.1h21.0v5.6h-21.0zM1300.7 1033.3h21.0v5.6h-21.0zM1300.7 1034.1h21.0v5.6h-21.0zM1304.1 1033.3h21.0v5.6h-21.0zM1304.1 1034.1h21.0v5.6h-21.0zM1307.5 1033.4h21.0v5.6h-21.0zM1307.5 1034.0h21.0v5.6h-21.0zM1310.9 1033.4h21.0v5.6h-21.0zM1310.9 1034.0h21.0v5.6h-21.0z"/>
<polyline fill="none" stroke="#0000ff" stroke-width="6.0" stroke-linejoin="round" points="437.7,1036.5 441.1,1036.2 444.5,1035.6 447.9,1034.4 451.3,1031.6 454.7,1025.1 458.1,1011.8 461.5,993.9 464.9,969.1 468.3,940.6 471.7,910.8 475.1,868.9 478.5,825.3 481.9,779.2 485.3,740.3 488.7,706.0 492.1,674.7 495.5,651.4 498.9,632.6 502.3,616.4 505.7,602.7 509.1,591.4 512.5,581.8 515.9,569.7 519.3,556.9 522.7,547.3 526.1,537.0 529.5,526.1 532.9,515.2 536.3,503.9 539.7,491.5 543.1,478.0 546.5,463.1 549.9,446.5 553.3,431.3 556.7,417.1 560.1,401.9 563.5,385.2 566.9,369.4 570.3,354.9 573.7,341.3 577.1,328.3 580.5,316.0 583.9,303.9 587.3,291.6 590.7,280.0 594.1,268.8 597.5,260.5 600.9,254.2 604.3,251.2 607.7,249.1 611.1,247.7 614.5,246.8 617.9,246.0 621.3,245.4 624.7,244.9 628.1,244.6 631.5,244.4 634.9,244.3 638.3,244.2 641.7,244.1 645.1,244.0 648.5,243.9 651.9,243.7 655.3,243.3 658.7,244.1 662.1,245.0 665.5,246.1 668.9,247.5 672.3,249.2 675.7,251.0 679.1,253.0 682.4,255.1 685.8,257.4 689.2,260.0 692.6,263.1 696.0,267.1 699.4,271.7 702.8,276.8 706.2,281.9 709.6,287.3 713.0,293.0 716.4,298.8 719.8,304.6 723.2,310.2 726.6,316.2 730.0,322.9 733.4,331.3 736.8,340.9 740.2,350.9 743.6,361.4 747.0,370.8 750.4,379.6 753.8,389.6 757.2,400.5 760.6,411.1 764.0,421.6 767.4,432.4 770.8,443.4 774.2,454.3 777.6,465.1 781.0,475.9 784.4,486.6 787.8,497.4 791.2,508.3 794.6,519.5 798.0,530.5 801.4,540.5 804.8,549.9 808.2,559.1 811.6,567.9 815.0,576.7 818.4,586.1 821.8,596.1 825.2,605.4 828.6,613.5 832.0,620.9 835.4,628.1 838.8,635.7 842.2,643.2 845.6,650.8 849.0,658.3 852.4,666.0 855.8,673.6 859.2,680.9 862.6,687.4 866.0,693.7 869.4,700.4 872.8,707.6 876.2,715.3 879.6,723.0 883.0,730.9 886.4,738.9 889.8,746.9 893.2,754.6 896.6,762.3 900.0,769.8 903.4,776.8 906.8,783.2 910.2,789.4 913.6,794.9 917.0,799.6 920.4,803.7 923.7,807.5 927.1,811.2 930.5,814.6 933.9,817.8 937.3,821.1 940.7,824.6 944.1,828.3 947.5,832.2 950.9,836.2 954.3,840.4 957.7,844.6 961.1,849.0 964.5,853.5 967.9,858.1 971.3,862.7 974.7,867.2 978.1,871.9 981.5,876.5 984.9,881.0 988.3,885.4 991.7,889.6 995.1,893.6 998.5,897.5 1001.9,901.4 1005.3,905.2 1008.7,909.0 1012.1,912.6 1015.5,916.2 1018.9,919.9 1022.3,923.8 1025.7,928.1 1029.1,932.6 1032.5,937.0 1035.9,941.0 1039.3,944.5 1042.7,947.7 1046.1,950.6 1049.5,953.3 1052.9,955.6 1056.3,957.6 1059.7,959.4 1063.1,961.1 1066.5,962.6 1069.9,964.2 1073.3,965.6 1076.7,967.1 1080.1,968.5 1083.5,969.8 1086.9,971.1 1090.3,972.7 1093.7,974.2 1097.1,975.5 1100.5,976.4 1103.9,976.4 1107.3,975.7 1110.7,974.6 1114.1,973.5 1117.5,972.2 1120.9,970.8 1124.3,969.5 1127.7,968.1 1131.1,966.7 1134.5,965.4 1137.9,964.7 1141.3,964.5 1144.7,964.6 1148.1,964.8 1151.5,965.3 1154.9,966.6 1158.3,968.4 1161.7,970.5 1165.0,973.1 1168.4,975.9 1171.8,978.8 1175.2,982.0 1178.6,985.1 1182.0,988.3 1185.4,991.5 1188.8,994.3 1192.2,996.7 1195.6,998.9 1199.0,1000.7 1202.4,1002.0 1205.8,1003.2 1209.2,1004.2 1212.6,1005.1 1216.0,1006.1 1219.4,1006.8 1222.8,1007.5 1226.2,1007.9 1229.6,1008.4 1233.0,1008.9 1236.4,1009.4 1239.8,1009.9 1243.2,1010.7 1246.6,1011.8 1250.0,1013.3 1253.4,1014.9 1256.8,1016.8 1260.2,1019.0 1263.6,1021.3 1267.0,1023.7 1270.4,1026.2 1273.8,1028.5 1277.2,1030.3 1280.6,1032.1 1284.0,1033.6 1287.4,1034.7 1290.8,1035.4 1294.2,1036.0 1297.6,1036.4 1301.0,1036.5 1304.4,1036.5 1307.8,1036.5 1311.2,1036.5 1314.6,1036.5 1318.0,1036.5 1321.4,1036.5"/>
<path fill="#000000" d="M427.2 1033.4h21.0v5.6h-21.0zM427.2 1033.9h21.0v5.6h-21.0zM430.6 1033.0h21.0v5.6h-21.0zM430.6 1033.7h21.0v5.6h-21.0zM434.0 1032.3h21.0v5.6h-21.0zM434.0 1033.3h21.0v5.6h-21.0zM437.4 1027.7h21.0v5.6h-21.0zM437.4 1035.5h21.0v5.6h-21.0zM445.7 1030.5h4.5v7.8h-4.5zM440.8 1019.0h21.0v5.6h-21.0zM440.8 1038.7h21.0v5.6h-21.0zM449.1 1021.8h4.5v19.7h-4.5zM444.2 1006.5h21.0v5.6h-21.0zM444.2 1038.1h21.0v5.6h-21.0zM452.5 1009.3h4.5v31.6h-4.5zM447.6 988.9h21.0v5.6h-21.0zM447.6 1029.2h21.0v5.6h-21.0zM455.9 991.7h4.5v40.3h-4.5zM451.0 967.6h21.0v5.6h-21.0zM451.0 1014.7h21.0v5.6h-21.0zM459.3 970.4h4.5v47.1h-4.5zM454.4 942.4h21.0v5.6h-21.0zM454.4 990.2h21.0v5.6h-21.0zM462.7 945.2h4.5v47.8h-4.5zM457.8 914.1h21.0v5.6h-21.0zM457.8 961.6h21.0v5.6h-21.0zM466.1 916.9h4.5v47.5h-4.5zM461.2 884.3h21.0v5.6h-21.0zM461.2 931.6h21.0v5.6h-21.0zM469.5 887.1h4.5v47.3h-4.5zM464.6 842.6h21.0v5.6h-21.0zM464.6 889.6h21.0v5.6h-21.0zM472.9 845.4h4.5v47.1h-4.5zM468.0 799.0h21.0v5.6h-21.0zM468.0 845.9h21.0v5.6h-21.0zM476.3 801.8h4.5v46.8h-4.5zM471.4 753.1h21.0v5.6h-21.0zM471.4 799.6h21.0v5.6h-21.0zM479.7 755.9h4.5v46.6h-4.5zM474.8 714.4h21.0v5.6h-21.0zM474.8 760.7h21.0v5.6h-21.0zM483.1 717.2h4.5v46.3h-4.5zM478.2 680.1h21.0v5.6h-21.0zM478.2 726.2h21.0v5.6h-21.0zM486.5 682.9h4.5v46.1h-4.5zM481.6 649.3h21.0v5.6h-21.0zM481.6 694.5h21.0v5.6h-21.0zM489.9 652.1h4.5v45.1h-4.5zM485.0 626.7h21.0v5.6h-21.0zM485.0 670.5h21.0v5.6h-21.0zM493.3 629.5h4.5v43.8h-4.5zM488.4 608.6h21.0v5.6h-21.0zM488.4 651.0h21.0v5.6h-21.0zM496.7 611.4h4.5v42.4h-4.5zM491.8 592.7h21.0v5.6h-21.0zM491.8 634.6h21.0v5.6h-21.0zM500.1 595.5h4.5v41.9h-4.5zM495.2 579.0h21.0v5.6h-21.0zM495.2 620.8h21.0v5.6h-21.0zM503.5 581.8h4.5v41.8h-4.5zM498.6 567.7h21.0v5.6h-21.0zM498.6 609.4h21.0v5.6h-21.0zM506.9 570.5h4.5v41.7h-4.5zM502.0 558.2h21.0v5.6h-21.0zM502.0 599.8h21.0v5.6h-21.0zM510.3 561.0h4.5v41.6h-4.5zM505.4 546.2h21.0v5.6h-21.0zM505.4 587.7h21.0v5.6h-21.0zM513.7 549.0h4.5v41.5h-4.5zM508.8 533.4h21.0v5.6h-21.0zM508.8 574.8h21.0v5.6h-21.0zM517.1 536.2h4.5v41.4h-4.5zM512.2 523.8h21.0v5.6h-21.0zM512.2 565.1h21.0v5.6h-21.0zM520.5 526.6h4.5v41.2h-4.5zM515.6 513.6h21.0v5.6h-21.0zM515.6 554.7h21.0v5.6h-21.0zM523.9 516.4h4.5v41.1h-4.5zM519.0 502.8h21.0v5.6h-21.0zM519.0 543.8h21.0v5.6h-21.0zM527.3 505.6h4.5v41.0h-4.5zM522.4 491.9h21.0v5.6h-21.0zM522.4 532.8h21.0v5.6h-21.0zM530.7 494.7h4.5v40.9h-4.5zM525.8 480.7h21.0v5.6h-21.0zM525.8 521.5h21.0v5.6h-21.0zM534.1 483.5h4.5v40.8h-4.5zM529.2 468.4h21.0v5.6h-21.0zM529.2 509.1h21.0v5.6h-21.0zM537.5 471.2h4.5v40.7h-4.5zM532.6 455.0h21.0v5.6h-21.0zM532.6 495.5h21.0v5.6h-21.0zM540.9 457.8h4.5v40.6h-4.5zM536.0 440.1h21.0v5.6h-21.0zM536.0 480.6h21.0v5.6h-21.0zM544.3 442.9h4.5v40.4h-4.5zM539.4 423.6h21.0v5.6h-21.0zM539.4 463.9h21.0v5.6h-21.0zM547.7 426.4h4.5v40.3h-4.5zM542.8 408.4h21.0v5.6h-21.0zM542.8 448.6h21.0v5.6h-21.0zM551.1 411.2h4.5v40.2h-4.5zM546.2 394.3h21.0v5.6h-21.0zM546.2 434.4h21.0v5.6h-21.0zM554.5 397.1h4.5v40.1h-4.5zM549.6 379.2h21.0v5.6h-21.0zM549.6 419.1h21.0v5.6h-21.0zM557.8 382.0h4.5v40.0h-4.5zM553.0 362.7h21.0v5.6h-21.0zM553.0 402.1h21.0v5.6h-21.0zM561.2 365.5h4.5v39.4h-4.5zM556.4 347.1h21.0v5.6h-21.0zM556.4 386.0h21.0v5.6h-21.0zM564.6 349.9h4.5v38.9h-4.5zM559.8 333.0h21.0v5.6h-21.0zM559.8 371.3h21.0v5.6h-21.0zM568.0 335.8h4.5v38.3h-4.5zM563.2 319.6h21.0v5.6h-21.0zM563.2 357.4h21.0v5.6h-21.0zM571.4 322.4h4.5v37.7h-4.5zM566.6 307.0h21.0v5.6h-21.0zM566.6 344.1h21.0v5.6h-21.0zM574.8 309.8h4.5v37.2h-4.5zM570.0 294.9h21.0v5.6h-21.0zM570.0 331.5h21.0v5.6h-21.0zM578.2 297.7h4.5v36.6h-4.5zM573.4 283.1h21.0v5.6h-21.0zM573.4 319.1h21.0v5.6h-21.0zM581.6 285.9h4.5v36.0h-4.5zM576.8 273.6h21.0v5.6h-21.0zM576.8 304.1h21.0v5.6h-21.0zM585.0 276.4h4.5v30.5h-4.5zM580.2 264.7h21.0v5.6h-21.0zM580.2 289.6h21.0v5.6h-21.0zM588.4 267.5h4.5v24.9h-4.5zM583.6 256.4h21.0v5.6h-21.0zM583.6 275.5h21.0v5.6h-21.0zM591.8 259.2h4.5v19.2h-4.5zM587.0 250.7h21.0v5.6h-21.0zM587.0 264.6h21.0v5.6h-21.0zM595.2 253.5h4.5v13.9h-4.5zM590.4 246.9h21.0v5.6h-21.0zM590.4 256.0h21.0v5.6h-21.0zM598.6 249.7h4.5v9.2h-4.5zM593.8 246.2h21.0v5.6h-21.0zM593.8 250.6h21.0v5.6h-21.0zM597.2 245.4h21.0v5.6h-21.0zM597.2 247.2h21.0v5.6h-21.0zM600.6 244.2h21.0v5.6h-21.0zM600.6 245.7h21.0v5.6h-21.0zM604.0 243.4h21.0v5.6h-21.0zM604.0 244.6h21.0v5.6h-21.0zM607.4 242.8h21.0v5.6h-21.0zM607.4 243.6h21.0v5.6h-21.0zM610.8 242.3h21.0v5.6h-21.0zM610.8 242.9h21.0v5.6h-21.0zM614.2 241.8h21.0v5.6h-21.0zM614.2 242.4h21.0v5.6h-21.0zM617.6 241.5h21.0v5.6h-21.0zM617.6 242.1h21.0v5.6h-21.0zM621.0 241.3h21.0v5.6h-21.0zM621.0 241.9h21.0v5.6h-21.0zM624.4 241.2h21.0v5.6h-21.0zM624.4 241.8h21.0v5.6h-21.0zM627.8 241.1h21.0v5.6h-21.0zM627.8 241.7h21.0v5.6h-21.0zM631.2 241.0h21.0v5.6h-21.0zM631.2 241.6h21.0v5.6h-21.0zM634.6 240.9h21.0v5.6h-21.0zM634.6 241.5h21.0v5.6h-21.0zM638.0 240.8h21.0v5.6h-21.0zM638.0 241.4h21.0v5.6h-21.0zM641.4 240.6h21.0v5.6h-21.0zM641.4 241.2h21.0v5.6h-21.0zM644.8 240.2h21.0v5.6h-21.0zM644.8 240.8h21.0v5.6h-21.0zM648.2 239.6h21.0v5.6h-21.0zM648.2 240.2h21.0v5.6h-21.0zM651.6 238.7h21.0v5.6h-21.0zM651.6 239.4h21.0v5.6h-21.0zM655.0 237.5h21.0v5.6h-21.0zM655.0 238.4h21.0v5.6h-21.0zM658.4 236.2h21.0v5.6h-21.0zM658.4 237.4h21.0v5.6h-21.0zM661.8 234.9h21.0v5.6h-21.0zM661.8 236.3h21.0v5.6h-21.0zM665.2 233.5h21.0v5.6h-21.0zM665.2 235.1h21.0v5.6h-21.0zM668.6 231.9h21.0v5.6h-21.0zM668.6 233.6h21.0v5.6h-21.0zM671.9 230.0h21.0v5.6h-21.0zM671.9 231.9h21.0v5.6h-21.0zM675.3 227.7h21.0v5.6h-21.0zM675.3 229.9h21.0v5.6h-21.0zM678.7 224.6h21.0v5.6h-21.0zM678.7 226.9h21.0v5.6h-21.0zM682.1 220.8h21.0v5.6h-21.0zM682.1 223.3h21.0v5.6h-21.0zM685.5 217.7h21.0v5.6h-21.0zM685.5 220.5h21.0v5.6h-21.0zM688.9 214.7h21.0v5.6h-21.0zM688.9 217.7h21.0v5.6h-21.0zM692.3 211.6h21.0v5.6h-21.0zM692.3 214.8h21.0v5.6h-21.0zM695.7 208.4h21.0v5.6h-21.0zM695.7 211.8h21.0v5.6h-21.0zM699.1 204.6h21.0v5.6h-21.0zM699.1 208.2h21.0v5.6h-21.0zM702.5 200.1h21.0v5.6h-21.0zM702.5 204.0h21.0v5.6h-21.0zM705.9 196.7h21.0v5.6h-21.0zM705.9 200.7h21.0v5.6h-21.0zM709.3 193.3h21.0v5.6h-21.0zM709.3 197.3h21.0v5.6h-21.0zM712.7 189.2h21.0v5.6h-21.0zM712.7 193.2h21.0v5.6h-21.0zM716.1 184.4h21.0v5.6h-21.0zM716.1 188.4h21.0v5.6h-21.0zM719.5 179.5h21.0v5.6h-21.0zM719.5 183.5h21.0v5.6h-21.0zM722.9 174.9h21.0v5.6h-21.0zM722.9 178.9h21.0v5.6h-21.0zM726.3 171.0h21.0v5.6h-21.0zM726.3 175.0h21.0v5.6h-21.0zM729.7 167.3h21.0v5.6h-21.0zM729.7 171.3h21.0v5.6h-21.0zM733.1 163.0h21.0v5.6h-21.0zM733.1 167.0h21.0v5.6h-21.0zM736.5 157.9h21.0v5.6h-21.0zM736.5 161.9h21.0v5.6h-21.0zM739.9 152.7h21.0v5.6h-21.0zM739.9 156.7h21.0v5.6h-21.0zM743.3 149.2h21.0v5.6h-21.0zM743.3 153.2h21.0v5.6h-21.0zM746.7 147.2h21.0v5.6h-21.0zM746.7 151.2h21.0v5.6h-21.0zM750.1 144.4h21.0v5.6h-21.0zM750.1 148.4h21.0v5.6h-21.0zM753.5 140.4h21.0v5.6h-21.0zM753.5 144.4h21.0v5.6h-21.0zM756.9 134.8h21.0v5.6h-21.0zM756.9 138.8h21.0v5.6h-21.0zM760.3 129.8h21.0v5.6h-21.0zM760.3 133.8h21.0v5.6h-21.0zM763.7 126.7h21.0v5.6h-21.0zM763.7 130.7h21.0v5.6h-21.0zM767.1 125.0h21.0v5.6h-21.0zM767.1 129.0h21.0v5.6h-21.0zM770.5 123.4h21.0v5.6h-21.0zM770.5 127.4h21.0v5.6h-21.0zM773.9 120.6h21.0v5.6h-21.0zM773.9 124.6h21.0v5.6h-21.0zM777.3 116.3h21.0v5.6h-21.0zM777.3 120.3h21.0v5.6h-21.0zM780.7 110.5h21.0v5.6h-21.0zM780.7 114.5h21.0v5.6h-21.0zM784.1 104.7h21.0v5.6h-21.0zM784.1 108.7h21.0v5.6h-21.0zM787.5 101.6h21.0v5.6h-21.0zM787.5 105.6h21.0v5.6h-21.0zM790.9 100.6h21.0v5.6h-21.0zM790.9 104.6h21.0v5.6h-21.0zM794.3 100.2h21.0v5.6h-21.0zM794.3 104.2h21.0v5.6h-21.0zM797.7 99.9h21.0v5.6h-21.0zM797.7 103.9h21.0v5.6h-21.0zM801.1 99.5h21.0v5.6h-21.0zM801.1 103.5h21.0v5.6h-21.0zM804.5 98.3h21.0v5.6h-21.0zM804.5 102.3h21.0v5.6h-21.0zM807.9 95.7h21.0v5.6h-21.0zM807.9 99.7h21.0v5.6h-21.0zM811.3 93.2h21.0v5.6h-21.0zM811.3 97.2h21.0v5.6h-21.0zM814.7 90.3h21.0v5.6h-21.0zM814.7 94.3h21.0v5.6h-21.0zM818.1 87.8h21.0v5.6h-21.0zM818.1 91.8h21.0v5.6h-21.0zM821.5 84.4h21.0v5.6h-21.0zM821.5 88.4h21.0v5.6h-21.0zM824.9 85.2h21.0v5.6h-21.0zM824.9 89.2h21.0v5.6h-21.0zM828.3 87.1h21.0v5.6h-21.0zM828.3 91.1h21.0v5.6h-21.0zM831.7 88.7h21.0v5.6h-21.0zM831.7 92.9h21.0v5.6h-21.0zM835.1 90.2h21.0v5.6h-21.0zM835.1 94.7h21.0v5.6h-21.0zM838.5 92.0h21.0v5.6h-21.0zM838.5 96.7h21.0v5.6h-21.0zM841.9 96.0h21.0v5.6h-21.0zM841.9 101.0h21.0v5.6h-21.0zM845.3 101.9h21.0v5.6h-21.0zM845.3 108.5h21.0v5.6h-21.0zM853.5 104.7h4.5v6.7h-4.5zM848.7 109.8h21.0v5.6h-21.0zM848.7 118.2h21.0v5.6h-21.0zM856.9 112.6h4.5v8.4h-4.5zM852.1 117.0h21.0v5.6h-21.0zM852.1 127.0h21.0v5.6h-21.0zM860.3 119.8h4.5v10.0h-4.5zM855.5 124.4h21.0v5.6h-21.0zM855.5 136.4h21.0v5.6h-21.0zM863.7 127.2h4.5v11.9h-4.5zM858.9 133.4h21.0v5.6h-21.0zM858.9 147.4h21.0v5.6h-21.0zM867.1 136.2h4.5v14.0h-4.5zM862.3 140.1h21.0v5.6h-21.0zM862.3 155.4h21.0v5.6h-21.0zM870.5 142.9h4.5v15.2h-4.5zM865.7 146.7h21.0v5.6h-21.0zM865.7 163.0h21.0v5.6h-21.0zM873.9 149.5h4.5v16.3h-4.5zM869.1 154.3h21.0v5.6h-21.0zM869.1 171.5h21.0v5.6h-21.0zM877.3 157.1h4.5v17.3h-4.5zM872.5 163.9h21.0v5.6h-21.0zM872.5 182.4h21.0v5.6h-21.0zM880.7 166.7h4.5v18.5h-4.5zM875.9 175.4h21.0v5.6h-21.0zM875.9 195.2h21.0v5.6h-21.0zM884.1 178.2h4.5v19.8h-4.5zM879.3 188.0h21.0v5.6h-21.0zM879.3 207.2h21.0v5.6h-21.0zM887.5 190.8h4.5v19.2h-4.5zM882.7 202.4h21.0v5.6h-21.0zM882.7 220.6h21.0v5.6h-21.0zM890.9 205.2h4.5v18.2h-4.5zM886.1 211.2h21.0v5.6h-21.0zM886.1 228.3h21.0v5.6h-21.0zM894.3 214.0h4.5v17.1h-4.5zM889.5 219.4h21.0v5.6h-21.0zM889.5 238.5h21.0v5.6h-21.0zM897.7 222.2h4.5v19.1h-4.5zM892.9 228.5h21.0v5.6h-21.0zM892.9 250.0h21.0v5.6h-21.0zM901.1 231.3h4.5v21.5h-4.5zM896.3 238.0h21.0v5.6h-21.0zM896.3 262.3h21.0v5.6h-21.0zM904.5 240.8h4.5v24.3h-4.5zM899.7 248.4h21.0v5.6h-21.0zM899.7 275.4h21.0v5.6h-21.0zM907.9 251.2h4.5v27.0h-4.5zM903.1 259.2h21.0v5.6h-21.0zM903.1 285.9h21.0v5.6h-21.0zM911.3 262.0h4.5v26.7h-4.5zM906.5 269.0h21.0v5.6h-21.0zM906.5 295.4h21.0v5.6h-21.0zM914.7 271.8h4.5v26.4h-4.5zM909.9 278.6h21.0v5.6h-21.0zM909.9 304.6h21.0v5.6h-21.0zM918.1 281.4h4.5v26.1h-4.5zM913.2 288.6h21.0v5.6h-21.0zM913.2 314.4h21.0v5.6h-21.0zM921.5 291.4h4.5v25.8h-4.5zM916.6 298.7h21.0v5.6h-21.0zM916.6 324.2h21.0v5.6h-21.0zM924.9 301.5h4.5v25.4h-4.5zM920.0 308.2h21.0v5.6h-21.0zM920.0 333.3h21.0v5.6h-21.0zM928.3 311.0h4.5v25.1h-4.5zM923.4 316.7h21.0v5.6h-21.0zM923.4 341.7h21.0v5.6h-21.0zM931.7 319.5h4.5v25.0h-4.5zM926.8 325.0h21.0v5.6h-21.0zM926.8 349.9h21.0v5.6h-21.0zM935.1 327.8h4.5v24.9h-4.5zM930.2 333.6h21.0v5.6h-21.0zM930.2 358.5h21.0v5.6h-21.0zM938.5 336.4h4.5v24.8h-4.5zM933.6 342.6h21.0v5.6h-21.0zM933.6 367.4h21.0v5.6h-21.0zM941.9 345.4h4.5v24.8h-4.5zM937.0 352.0h21.0v5.6h-21.0zM937.0 376.7h21.0v5.6h-21.0zM945.3 354.8h4.5v24.7h-4.5zM940.4 362.0h21.0v5.6h-21.0zM940.4 386.7h21.0v5.6h-21.0zM948.7 364.8h4.5v24.7h-4.5zM943.8 372.8h21.0v5.6h-21.0zM943.8 397.4h21.0v5.6h-21.0zM952.1 375.6h4.5v24.6h-4.5zM947.2 382.7h21.0v5.6h-21.0zM947.2 407.3h21.0v5.6h-21.0zM955.5 385.5h4.5v24.6h-4.5zM950.6 390.7h21.0v5.6h-21.0zM950.6 415.2h21.0v5.6h-21.0zM958.9 393.5h4.5v24.5h-4.5zM954.0 398.0h21.0v5.6h-21.0zM954.0 422.4h21.0v5.6h-21.0zM962.3 400.8h4.5v24.4h-4.5zM957.4 405.3h21.0v5.6h-21.0zM957.4 429.7h21.0v5.6h-21.0zM965.7 408.1h4.5v24.4h-4.5zM960.8 413.7h21.0v5.6h-21.0zM960.8 438.0h21.0v5.6h-21.0zM969.1 416.5h4.5v24.3h-4.5zM964.2 422.6h21.0v5.6h-21.0zM964.2 446.9h21.0v5.6h-21.0zM972.5 425.4h4.5v24.3h-4.5zM967.6 431.5h21.0v5.6h-21.0zM967.6 455.7h21.0v5.6h-21.0zM975.9 434.3h4.5v24.2h-4.5zM971.0 440.1h21.0v5.6h-21.0zM971.0 464.3h21.0v5.6h-21.0zM979.3 442.9h4.5v24.1h-4.5zM974.4 448.6h21.0v5.6h-21.0zM974.4 472.7h21.0v5.6h-21.0zM982.7 451.4h4.5v24.1h-4.5zM977.8 456.8h21.0v5.6h-21.0zM977.8 480.9h21.0v5.6h-21.0zM986.1 459.6h4.5v24.0h-4.5zM981.2 465.3h21.0v5.6h-21.0zM981.2 488.6h21.0v5.6h-21.0zM989.5 468.1h4.5v23.3h-4.5zM984.6 473.8h21.0v5.6h-21.0zM984.6 495.7h21.0v5.6h-21.0zM992.9 476.6h4.5v22.0h-4.5zM988.0 481.2h21.0v5.6h-21.0zM988.0 501.8h21.0v5.6h-21.0zM996.3 484.0h4.5v20.6h-4.5zM991.4 487.8h21.0v5.6h-21.0zM991.4 507.1h21.0v5.6h-21.0zM999.7 490.6h4.5v19.2h-4.5zM994.8 493.9h21.0v5.6h-21.0zM994.8 511.8h21.0v5.6h-21.0zM1003.1 496.7h4.5v17.9h-4.5zM998.2 499.6h21.0v5.6h-21.0zM998.2 516.2h21.0v5.6h-21.0zM1006.5 502.4h4.5v16.5h-4.5zM1001.6 504.8h21.0v5.6h-21.0zM1001.6 520.7h21.0v5.6h-21.0zM1009.9 507.6h4.5v15.9h-4.5zM1005.0 509.3h21.0v5.6h-21.0zM1005.0 525.1h21.0v5.6h-21.0zM1013.3 512.1h4.5v15.8h-4.5zM1008.4 513.7h21.0v5.6h-21.0zM1008.4 529.3h21.0v5.6h-21.0zM1016.7 516.5h4.5v15.6h-4.5zM1011.8 518.2h21.0v5.6h-21.0zM1011.8 533.7h21.0v5.6h-21.0zM1020.1 521.0h4.5v15.5h-4.5zM1015.2 522.8h21.0v5.6h-21.0zM1015.2 538.1h21.0v5.6h-21.0zM1023.5 525.6h4.5v15.4h-4.5zM1018.6 527.4h21.0v5.6h-21.0zM1018.6 542.6h21.0v5.6h-21.0zM1026.9 530.2h4.5v15.2h-4.5zM1022.0 532.1h21.0v5.6h-21.0zM1022.0 547.2h21.0v5.6h-21.0zM1030.3 534.9h4.5v15.1h-4.5zM1025.4 537.0h21.0v5.6h-21.0zM1025.4 552.0h21.0v5.6h-21.0zM1033.7 539.8h4.5v15.0h-4.5zM1028.8 542.3h21.0v5.6h-21.0zM1028.8 557.2h21.0v5.6h-21.0zM1037.1 545.1h4.5v14.8h-4.5zM1032.2 548.0h21.0v5.6h-21.0zM1032.2 562.7h21.0v5.6h-21.0zM1040.5 550.8h4.5v14.7h-4.5zM1035.6 553.8h21.0v5.6h-21.0zM1035.6 568.3h21.0v5.6h-21.0zM1043.8 556.6h4.5v14.6h-4.5zM1039.0 559.2h21.0v5.6h-21.0zM1039.0 573.6h21.0v5.6h-21.0zM1047.2 562.0h4.5v14.4h-4.5zM1042.4 564.1h21.0v5.6h-21.0zM1042.4 578.4h21.0v5.6h-21.0zM1050.6 566.9h4.5v14.3h-4.5zM1045.8 568.8h21.0v5.6h-21.0zM1045.8 582.9h21.0v5.6h-21.0zM1054.0 571.6h4.5v14.1h-4.5zM1049.2 573.2h21.0v5.6h-21.0zM1049.2 587.2h21.0v5.6h-21.0zM1057.4 576.0h4.5v14.0h-4.5zM1052.6 577.4h21.0v5.6h-21.0zM1052.6 591.2h21.0v5.6h-21.0zM1060.8 580.2h4.5v13.8h-4.5zM1056.0 581.4h21.0v5.6h-21.0zM1056.0 594.9h21.0v5.6h-21.0zM1064.2 584.2h4.5v13.6h-4.5zM1059.4 585.0h21.0v5.6h-21.0zM1059.4 598.4h21.0v5.6h-21.0zM1067.6 587.8h4.5v13.3h-4.5zM1062.8 588.8h21.0v5.6h-21.0zM1062.8 601.9h21.0v5.6h-21.0zM1071.0 591.6h4.5v13.1h-4.5zM1066.2 593.0h21.0v5.6h-21.0zM1066.2 605.9h21.0v5.6h-21.0zM1074.4 595.8h4.5v12.9h-4.5zM1069.6 597.8h21.0v5.6h-21.0zM1069.6 610.4h21.0v5.6h-21.0zM1077.8 600.6h4.5v12.7h-4.5zM1073.0 603.0h21.0v5.6h-21.0zM1073.0 615.4h21.0v5.6h-21.0zM1081.2 605.8h4.5v12.4h-4.5zM1076.4 608.6h21.0v5.6h-21.0zM1076.4 620.8h21.0v5.6h-21.0zM1084.6 611.4h4.5v12.2h-4.5zM1079.8 614.4h21.0v5.6h-21.0zM1079.8 626.4h21.0v5.6h-21.0zM1088.0 617.2h4.5v11.9h-4.5zM1083.2 621.0h21.0v5.6h-21.0zM1083.2 632.2h21.0v5.6h-21.0zM1091.4 623.8h4.5v11.2h-4.5zM1086.6 628.1h21.0v5.6h-21.0zM1086.6 638.5h21.0v5.6h-21.0zM1094.8 630.9h4.5v10.4h-4.5zM1090.0 635.5h21.0v5.6h-21.0zM1090.0 645.1h21.0v5.6h-21.0zM1098.2 638.3h4.5v9.6h-4.5zM1093.4 643.3h21.0v5.6h-21.0zM1093.4 652.1h21.0v5.6h-21.0zM1101.6 646.1h4.5v8.9h-4.5zM1096.8 651.3h21.0v5.6h-21.0zM1096.8 659.9h21.0v5.6h-21.0zM1105.0 654.1h4.5v8.6h-4.5zM1100.2 659.8h21.0v5.6h-21.0zM1100.2 668.4h21.0v5.6h-21.0zM1108.4 662.6h4.5v8.6h-4.5zM1103.6 669.1h21.0v5.6h-21.0zM1103.6 677.7h21.0v5.6h-21.0zM1111.8 671.9h4.5v8.6h-4.5zM1107.0 677.9h21.0v5.6h-21.0zM1107.0 686.5h21.0v5.6h-21.0zM1115.2 680.7h4.5v8.6h-4.5zM1110.4 685.9h21.0v5.6h-21.0zM1110.4 694.5h21.0v5.6h-21.0zM1118.6 688.7h4.5v8.6h-4.5zM1113.8 693.5h21.0v5.6h-21.0zM1113.8 702.1h21.0v5.6h-21.0zM1122.0 696.3h4.5v8.6h-4.5zM1117.2 700.5h21.0v5.6h-21.0zM1117.2 709.1h21.0v5.6h-21.0zM1125.4 703.3h4.5v8.6h-4.5zM1120.6 706.9h21.0v5.6h-21.0zM1120.6 715.5h21.0v5.6h-21.0zM1128.8 709.7h4.5v8.6h-4.5zM1124.0 713.8h21.0v5.6h-21.0zM1124.0 722.4h21.0v5.6h-21.0zM1132.2 716.6h4.5v8.6h-4.5zM1127.4 722.3h21.0v5.6h-21.0zM1127.4 730.9h21.0v5.6h-21.0zM1135.6 725.1h4.5v8.6h-4.5zM1130.8 732.2h21.0v5.6h-21.0zM1130.8 740.8h21.0v5.6h-21.0zM1139.0 735.0h4.5v8.6h-4.5zM1134.2 742.2h21.0v5.6h-21.0zM1134.2 750.8h21.0v5.6h-21.0zM1142.4 745.0h4.5v8.6h-4.5zM1137.6 751.7h21.0v5.6h-21.0zM1137.6 760.3h21.0v5.6h-21.0zM1145.8 754.5h4.5v8.6h-4.5zM1141.0 761.5h21.0v5.6h-21.0zM1141.0 770.1h21.0v5.6h-21.0zM1149.2 764.3h4.5v8.6h-4.5zM1144.4 771.9h21.0v5.6h-21.0zM1144.4 780.5h21.0v5.6h-21.0zM1152.6 774.7h4.5v8.6h-4.5zM1147.8 783.1h21.0v5.6h-21.0zM1147.8 791.7h21.0v5.6h-21.0zM1156.0 785.9h4.5v8.6h-4.5zM1151.2 794.4h21.0v5.6h-21.0zM1151.2 803.0h21.0v5.6h-21.0zM1159.4 797.2h4.5v8.6h-4.5zM1154.5 805.7h21.0v5.6h-21.0zM1154.5 814.3h21.0v5.6h-21.0zM1162.8 808.5h4.5v8.6h-4.5zM1157.9 816.3h21.0v5.6h-21.0zM1157.9 824.9h21.0v5.6h-21.0zM1166.2 819.1h4.5v8.6h-4.5zM1161.3 826.0h21.0v5.6h-21.0zM1161.3 834.6h21.0v5.6h-21.0zM1169.6 828.8h4.5v8.6h-4.5zM1164.7 836.3h21.0v5.6h-21.0zM1164.7 844.9h21.0v5.6h-21.0zM1173.0 839.1h4.5v8.6h-4.5zM1168.1 847.8h21.0v5.6h-21.0zM1168.1 856.4h21.0v5.6h-21.0zM1176.4 850.6h4.5v8.6h-4.5zM1171.5 859.4h21.0v5.6h-21.0zM1171.5 868.0h21.0v5.6h-21.0zM1179.8 862.2h4.5v8.6h-4.5zM1174.9 871.0h21.0v5.6h-21.0zM1174.9 879.6h21.0v5.6h-21.0zM1183.2 873.8h4.5v8.6h-4.5zM1178.3 882.1h21.0v5.6h-21.0zM1178.3 890.7h21.0v5.6h-21.0zM1186.6 884.9h4.5v8.6h-4.5zM1181.7 893.0h21.0v5.6h-21.0zM1181.7 901.6h21.0v5.6h-21.0zM1190.0 895.8h4.5v8.6h-4.5zM1185.1 901.0h21.0v5.6h-21.0zM1185.1 909.6h21.0v5.6h-21.0zM1193.4 903.8h4.5v8.6h-4.5zM1188.5 906.3h21.0v5.6h-21.0zM1188.5 915.0h21.0v5.6h-21.0zM1196.8 909.1h4.5v8.7h-4.5zM1191.9 911.6h21.0v5.6h-21.0zM1191.9 920.3h21.0v5.6h-21.0zM1200.2 914.4h4.5v8.7h-4.5zM1195.3 918.0h21.0v5.6h-21.0zM1195.3 926.9h21.0v5.6h-21.0zM1203.6 920.8h4.5v8.8h-4.5zM1198.7 924.8h21.0v5.6h-21.0zM1198.7 933.6h21.0v5.6h-21.0zM1207.0 927.6h4.5v8.9h-4.5zM1202.1 931.0h21.0v5.6h-21.0zM1202.1 940.0h21.0v5.6h-21.0zM1210.4 933.8h4.5v9.0h-4.5zM1205.5 936.8h21.0v5.6h-21.0zM1205.5 945.8h21.0v5.6h-21.0zM1213.8 939.6h4.5v9.0h-4.5zM1208.9 942.3h21.0v5.6h-21.0zM1208.9 951.2h21.0v5.6h-21.0zM1217.2 945.1h4.5v8.9h-4.5zM1212.3 947.7h21.0v5.6h-21.0zM1212.3 956.5h21.0v5.6h-21.0zM1220.6 950.5h4.5v8.8h-4.5zM1215.7 952.9h21.0v5.6h-21.0zM1215.7 961.6h21.0v5.6h-21.0zM1224.0 955.7h4.5v8.7h-4.5zM1219.1 958.1h21.0v5.6h-21.0zM1219.1 966.6h21.0v5.6h-21.0zM1227.4 960.9h4.5v8.6h-4.5zM1222.5 962.9h21.0v5.6h-21.0zM1222.5 971.4h21.0v5.6h-21.0zM1230.8 965.7h4.5v8.5h-4.5zM1225.9 967.4h21.0v5.6h-21.0zM1225.9 975.8h21.0v5.6h-21.0zM1234.2 970.2h4.5v8.4h-4.5zM1229.3 971.5h21.0v5.6h-21.0zM1229.3 979.8h21.0v5.6h-21.0zM1237.6 974.3h4.5v8.3h-4.5zM1232.7 975.3h21.0v5.6h-21.0zM1232.7 983.5h21.0v5.6h-21.0zM1241.0 978.1h4.5v8.2h-4.5zM1236.1 979.0h21.0v5.6h-21.0zM1236.1 987.1h21.0v5.6h-21.0zM1244.4 981.8h4.5v8.1h-4.5zM1239.5 982.5h21.0v5.6h-21.0zM1239.5 990.5h21.0v5.6h-21.0zM1247.8 985.3h4.5v8.0h-4.5zM1242.9 986.2h21.0v5.6h-21.0zM1242.9 993.8h21.0v5.6h-21.0zM1251.2 989.0h4.5v7.7h-4.5zM1246.3 989.9h21.0v5.6h-21.0zM1246.3 997.2h21.0v5.6h-21.0zM1254.6 992.7h4.5v7.3h-4.5zM1249.7 993.5h21.0v5.6h-21.0zM1249.7 1000.5h21.0v5.6h-21.0zM1258.0 996.3h4.5v7.0h-4.5zM1253.1 997.1h21.0v5.6h-21.0zM1253.1 1003.8h21.0v5.6h-21.0zM1261.4 999.9h4.5v6.6h-4.5zM1256.5 1000.6h21.0v5.6h-21.0zM1256.5 1006.9h21.0v5.6h-21.0zM1264.8 1003.4h4.5v6.3h-4.5zM1259.9 1003.9h21.0v5.6h-21.0zM1259.9 1009.9h21.0v5.6h-21.0zM1268.2 1006.7h4.5v6.0h-4.5zM1263.3 1007.1h21.0v5.6h-21.0zM1263.3 1012.7h21.0v5.6h-21.0zM1271.6 1009.9h4.5v5.6h-4.5zM1266.7 1010.2h21.0v5.6h-21.0zM1266.7 1015.5h21.0v5.6h-21.0zM1270.1 1013.2h21.0v5.6h-21.0zM1270.1 1018.2h21.0v5.6h-21.0zM1273.5 1016.0h21.0v5.6h-21.0zM1273.5 1020.6h21.0v5.6h-21.0zM1276.9 1018.5h21.0v5.6h-21.0zM1276.9 1022.8h21.0v5.6h-21.0zM1280.3 1020.8h21.0v5.6h-21.0zM1280.3 1024.7h21.0v5.6h-21.0zM1283.7 1023.0h21.0v5.6h-21.0zM1283.7 1026.5h21.0v5.6h-21.0zM1287.1 1025.0h21.0v5.6h-21.0zM1287.1 1028.0h21.0v5.6h-21.0zM1290.5 1026.7h21.0v5.6h-21.0zM1290.5 1029.4h21.0v5.6h-21.0zM1293.9 1028.2h21.0v5.6h-21.0zM1293.9 1030.5h21.0v5.6h-21.0zM1297.3 1029.6h21.0v5.6h-21.0zM1297.3 1031.4h21.0v5.6h-21.0zM1300.7 1030.9h21.0v5.6h-21.0zM1300.7 1032.3h21.0v5.6h-21.0zM1304.1 1032.0h21.0v5.6h-21.0zM1304.1 1033.0h21.0v5.6h-21.0zM1307.5 1032.6h21.0v5.6h-21.0zM1307.5 1033.5h21.0v5.6h-21.0zM1310.9 1032.9h21.0v5.6h-21.0zM1310.9 1033.7h21.0v5.6h-21.0z"/>
<polyline fill="none" stroke="#000000" stroke-width="6.0" stroke-linejoin="round" points="437.7,1036.5 441.1,1036.2 444.5,1035.6 447.9,1034.4 451.3,1031.6 454.7,1025.1 458.1,1011.8 461.5,993.9 464.9,969.1 468.3,940.6 471.7,910.8 475.1,868.9 478.5,825.3 481.9,779.2 485.3,740.3 488.7,706.0 492.1,674.7 495.5,651.4 498.9,632.6 502.3,616.4 505.7,602.7 509.1,591.4 512.5,581.8 515.9,569.7 519.3,556.9 522.7,547.3 526.1,537.0 529.5,526.1 532.9,515.2 536.3,503.9 539.7,491.5 543.1,478.0 546.5,463.1 549.9,446.5 553.3,431.3 556.7,417.1 560.1,401.9 563.5,385.2 566.9,369.4 570.3,354.9 573.7,341.3 577.1,328.3 580.5,316.0 583.9,303.9 587.3,291.6 590.7,280.0 594.1,268.8 597.5,260.5 600.9,254.2 604.3,251.2 607.7,249.1 611.1,247.7 614.5,246.8 617.9,246.0 621.3,245.4 624.7,244.9 628.1,244.6 631.5,244.4 634.9,244.3 638.3,244.2 641.7,244.1 645.1,244.0 648.5,243.9 651.9,243.7 655.3,243.3 658.7,242.7 662.1,241.8 665.5,240.8 668.9,239.6 672.3,238.4 675.7,237.1 679.1,235.6 682.4,233.7 685.8,231.6 689.2,228.6 692.6,224.9 696.0,221.9 699.4,219.0 702.8,216.0 706.2,212.9 709.6,209.2 713.0,204.9 716.4,201.5 719.8,198.1 723.2,194.0 726.6,189.2 730.0,184.3 733.4,179.7 736.8,175.8 740.2,172.1 743.6,167.8 747.0,162.7 750.4,157.5 753.8,154.0 757.2,152.0 760.6,149.2 764.0,145.2 767.4,139.6 770.8,134.6 774.2,131.5 777.6,129.8 781.0,128.2 784.4,125.4 787.8,121.1 791.2,115.3 794.6,109.5 798.0,106.4 801.4,105.4 804.8,105.0 808.2,104.7 811.6,104.3 815.0,103.1 818.4,100.5 821.8,98.0 825.2,95.1 828.6,92.6 832.0,89.2 835.4,90.0 838.8,91.9 842.2,93.6 845.6,95.3 849.0,97.1 852.4,101.3 855.8,108.0 859.2,116.8 862.6,124.8 866.0,133.2 869.4,143.2 872.8,150.5 876.2,157.6 879.6,165.7 883.0,176.0 886.4,188.1 889.8,200.4 893.2,214.3 896.6,222.5 900.0,231.7 903.4,242.1 906.8,253.0 910.2,264.7 913.6,275.4 917.0,285.0 920.4,294.4 923.7,304.3 927.1,314.3 930.5,323.6 933.9,332.0 937.3,340.2 940.7,348.9 944.1,357.8 947.5,367.2 950.9,377.1 954.3,387.9 957.7,397.8 961.1,405.8 964.5,413.0 967.9,420.3 971.3,428.6 974.7,437.6 978.1,446.4 981.5,455.0 984.9,463.5 988.3,471.6 991.7,479.8 995.1,487.5 998.5,494.3 1001.9,500.3 1005.3,505.7 1008.7,510.7 1012.1,515.5 1015.5,520.0 1018.9,524.3 1022.3,528.7 1025.7,533.3 1029.1,537.8 1032.5,542.5 1035.9,547.3 1039.3,552.5 1042.7,558.2 1046.1,563.8 1049.5,569.2 1052.9,574.1 1056.3,578.6 1059.7,583.0 1063.1,587.1 1066.5,590.9 1069.9,594.5 1073.3,598.2 1076.7,602.2 1080.1,606.9 1083.5,612.0 1086.9,617.5 1090.3,623.2 1093.7,629.4 1097.1,636.1 1100.5,643.1 1103.9,650.5 1107.3,658.4 1110.7,666.9 1114.1,676.2 1117.5,685.0 1120.9,693.0 1124.3,700.6 1127.7,707.6 1131.1,714.0 1134.5,720.9 1137.9,729.4 1141.3,739.3 1144.7,749.3 1148.1,758.8 1151.5,768.6 1154.9,779.0 1158.3,790.2 1161.7,801.5 1165.0,812.8 1168.4,823.4 1171.8,833.1 1175.2,843.4 1178.6,854.9 1182.0,866.5 1185.4,878.1 1188.8,889.2 1192.2,900.1 1195.6,908.1 1199.0,913.4 1202.4,918.8 1205.8,925.2 1209.2,932.0 1212.6,938.3 1216.0,944.1 1219.4,949.6 1222.8,954.9 1226.2,960.1 1229.6,965.2 1233.0,970.0 1236.4,974.4 1239.8,978.4 1243.2,982.2 1246.6,985.8 1250.0,989.3 1253.4,992.8 1256.8,996.3 1260.2,999.8 1263.6,1003.2 1267.0,1006.5 1270.4,1009.7 1273.8,1012.7 1277.2,1015.7 1280.6,1018.5 1284.0,1021.1 1287.4,1023.5 1290.8,1025.6 1294.2,1027.5 1297.6,1029.3 1301.0,1030.9 1304.4,1032.1 1307.8,1033.3 1311.2,1034.4 1314.6,1035.3 1318.0,1035.9 1321.4,1036.1"/>
</g>
<rect x="315" y="1033" width="38" height="6" fill="#008000"/>
<rect x="401.5" y="1033" width="38" height="6" fill="#008000"/>
<rect x="488" y="1033" width="38" height="6" fill="#008000"/>
<rect x="574.5" y="1033" width="38" height="6" fill="#008000"/>
<rect x="661" y="1033" width="32" height="6" fill="#008000"/>
<rect x="719" y="1033" width="38" height="6" fill="#008000"/>
<rect x="806" y="1033" width="38" height="6" fill="#008000"/>
<rect x="892.6" y="1033" width="38" height="6" fill="#008000"/>
<rect x="979.3" y="1033" width="38" height="6" fill="#008000"/>
<rect x="1066" y="1033" width="38" height="6" fill="#008000"/>
<rect x="1152.5" y="1033" width="38" height="6" fill="#008000"/>
<rect x="1239" y="1033" width="38" height="6" fill="#008000"/>
<rect x="1325.5" y="1033" width="8.5" height="6" fill="#008000"/>
<rect x="688" y="78.0" width="10" height="69.5" fill="#008000"/>
<rect x="688" y="164.8" width="10" height="69.5" fill="#008000"/>
<rect x="688" y="251.5" width="10" height="69.5" fill="#008000"/>
<rect x="688" y="338.2" width="10" height="69.5" fill="#008000"/>
<rect x="688" y="425.0" width="10" height="69.5" fill="#008000"/>
<rect x="688" y="511.8" width="10" height="69.5" fill="#008000"/>
<rect x="688" y="598.5" width="10" height="69.5" fill="#008000"/>
<rect x="688" y="685.2" width="10" height="69.5" fill="#008000"/>
<rect x="688" y="772.0" width="10" height="69.5" fill="#008000"/>
<rect x="688" y="858.8" width="10" height="69.5" fill="#008000"/>
<rect x="688" y="945.5" width="10" height="69.5" fill="#008000"/>
<rect x="688" y="1032.2" width="10" height="3.8" fill="#008000"/>
<rect x="1108" y="118" width="158" height="6" fill="#ff0000"/>
<rect x="1108" y="205" width="158" height="6" fill="#0000ff"/>
<rect x="1108" y="291" width="158" height="6" fill="#000000"/>
<g font-family="'Liberation Sans', Arial, sans-serif" font-size="70" font-weight="bold" fill="#000" filter="url(#th)">
<text x="1284.5" y="146">Escin</text>
<text x="1285" y="232">Water</text>
<text x="1285" y="319.5">System</text>
<text x="908" y="1226" text-anchor="middle">Z-coordinate [nm]</text>
<text transform="translate(118,869) rotate(-90)">Density [kg/m</text>
<text transform="translate(85,404.5) rotate(-90) scale(0.82,1.04)">3</text>
<text transform="translate(118,370) rotate(-90)">]</text>
</g>
<g font-family="'Liberation Sans', Arial, sans-serif" font-size="70" fill="#000" filter="url(#th)">
<text x="296" y="92.0" text-anchor="end">1200</text>
<text x="296" y="253.3" text-anchor="end">1000</text>
<text x="296" y="414.7" text-anchor="end">800</text>
<text x="296" y="576.0" text-anchor="end">600</text>
<text x="296" y="737.3" text-anchor="end">400</text>
<text x="296" y="898.7" text-anchor="end">200</text>
<text x="296" y="1060.0" text-anchor="end">0</text>
<text x="315.0" y="1113" text-anchor="middle">0</text>
<text x="612.4" y="1113" text-anchor="middle">5</text>
<text x="909.8" y="1113" text-anchor="middle">10</text>
<text x="1207.1" y="1113" text-anchor="middle">15</text>
<text x="1504.5" y="1113" text-anchor="middle">20</text>
</g>
</svg>
</body></html>
